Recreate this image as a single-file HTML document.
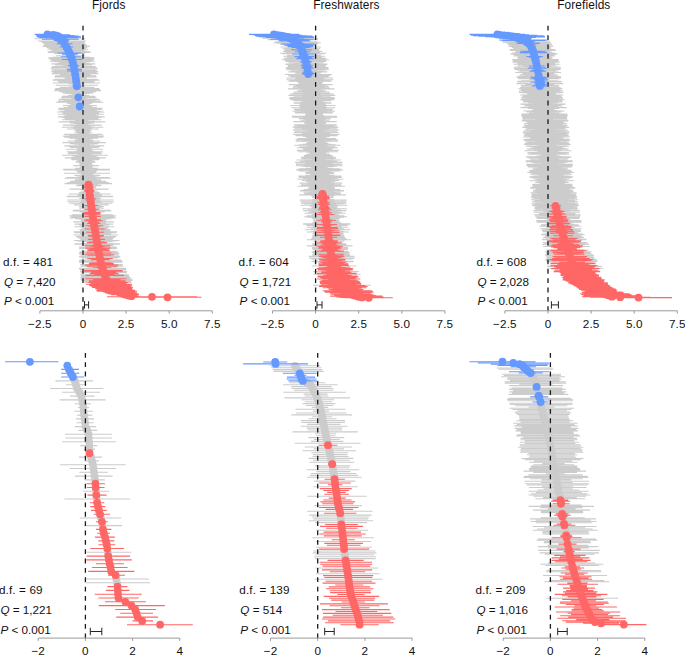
<!DOCTYPE html>
<html lang="en">
<head>
<meta charset="utf-8">
<title>Forest plots</title>
<style>html,body{margin:0;padding:0;background:#fff}svg{display:block}</style>
</head>
<body>
<svg width="685" height="655" viewBox="0 0 685 655" font-family="'Liberation Sans', sans-serif" font-size="11.7" letter-spacing="0.12" fill="#111">
<rect width="685" height="655" fill="#fff"/>
<text x="108.8" y="8.8" font-size="11.85" text-anchor="middle">Fjords</text>
<text x="346.4" y="8.8" font-size="11.85" text-anchor="middle">Freshwaters</text>
<text x="583.8" y="8.8" font-size="11.85" text-anchor="middle">Forefields</text>
<g>
<path d="M34.5 38.8H85.2M37.9 41H86.1M40.5 41.5H84.6M41.8 42.1H84.4M42.5 42.6H84.7M43.4 43.1H84.9M44.3 44.2H85.5M43.5 44.8H86.9M44.3 45.3H86.8M45.5 45.9H86.2M42.4 46.4H89.9M46.4 47.5H87.2M48.8 48.6H86M47.4 49.2H88M51.2 49.7H84.8M52.1 50.3H84.4M49.9 51.3H87.4M47.8 51.9H90.1M47.7 52.4H90.7M54 53.5H85.2M55.8 55.7H85.3M52.5 57.4H89.8M48.4 57.9H94.3M54.8 58.4H88.3M48.9 59H94.5M51.1 60.1H93.1M58.3 60.6H86.3M50 61.2H94.9M54.2 61.7H91M59.5 62.3H86.1M57.4 63.4H88.9M51.3 63.9H95.3M58.8 64.5H88M55.1 65H91.9M62.6 66.1H84.8M52 66.6H95.6M62.9 67.2H85M51.4 67.7H96.7M50.6 68.3H97.6M51.6 69.9H97.2M53.5 70.5H95.6M51.3 71.6H98.2M65.7 72.1H84.1M53.7 72.7H96.2M51.7 73.2H98.3M51.9 73.8H98.4M59.8 74.8H90.8M55 75.9H95.9M54.7 76.5H96.3M54.5 77H96.7M64.4 77.6H86.9M65 78.1H86.6M55 79.2H96.9M52.9 79.8H99.1M52.6 80.3H99.6M57.7 81.4H94.8M62.4 82H90.3M58.9 82.5H93.9M52.9 83H100M68.6 83.6H84.4M55.7 85.2H97.8M69.1 86.9H84.8M59.7 87.4H94.4M67.6 88H86.7M55.2 88.5H99.3M66.6 89.1H88M54.8 89.6H100.1M54.5 90.2H100.5M54.2 90.7H101M59.2 91.2H96.2M59.6 91.8H95.9M68.1 92.3H87.6M62.5 92.9H93.5M66.5 93.4H89.6M69.6 94H86.7M72.5 94.5H84.1M72.7 95.1H84M67.9 95.6H89M62 96.2H95.1M61.9 96.7H95.4M61.1 97.8H96.5M71.2 98.3H86.5M73.3 98.9H84.6M58.5 99.4H99.5M71.3 100H86.9M63.2 100.5H95.2M58 101.1H100.6M66.7 101.6H92.1M55.7 102.2H103.2M71.5 102.7H87.6M66.8 103.3H92.4M68.5 103.8H90.9M73.4 104.4H86.1M70.5 104.9H89.2M62.9 105.5H96.9M67.9 106H92.1M67.8 107.1H92.4M63.6 107.6H96.8M58 108.2H102.6M59.8 108.7H100.9M68.2 109.3H92.6M58.2 109.8H102.8M64.2 110.4H96.9M68.2 110.9H93M60.2 111.5H101.1M57.1 112H104.4M67.4 112.6H94.2M62.6 113.1H99.1M72.2 113.7H89.7M58.2 114.2H103.8M75.6 114.7H86.5M66.2 115.3H96.1M63.7 115.8H98.7M76.1 116.4H86.4M58 116.9H104.7M61.7 117.5H101.1M75.7 118H87.2M64.6 118.6H98.5M76.1 119.1H87.1M62 119.7H101.4M75.3 120.2H88.2M75 120.8H88.5M68.9 121.3H94.8M58.5 121.9H105.3M72.2 122.4H91.8M69.8 122.9H94.3M73.2 123.5H91M76.1 124H88.3M76.3 124.6H88.2M62.9 125.1H101.8M70.7 125.7H94.1M76.6 126.2H88.3M74.3 126.8H90.7M61.9 127.3H103.3M73 127.9H92.3M75.1 128.4H90.3M67 129H98.6M76.5 129.5H89.2M75.8 130H90M74.5 130.6H91.5M75.5 131.1H90.6M77.1 131.7H89.1M77.7 132.2H88.6M74.6 132.8H91.9M78 133.3H88.6M77.6 133.9H89.2M64.3 134.4H102.5M76.2 135H90.8M69.1 135.5H97.9M62.9 136.1H104.2M71.2 136.6H96M64.2 137.2H103.1M70.4 137.7H96.9M69.3 138.2H98.2M74.5 138.8H93.1M77.7 139.3H89.9M77.3 139.9H90.4M74.7 140.4H93.1M67.6 141H100.3M77.2 141.5H90.8M75 142.1H93.1M62.3 142.6H105.9M75.2 143.2H93M69.8 143.7H98.5M74 144.3H94.4M79 144.8H89.4M78.9 145.4H89.7M64.3 145.9H104.3M68.5 146.4H100.2M71.5 147H97.3M70.1 147.5H98.8M78.9 148.1H90.1M77.1 148.6H92M66.1 149.2H103.1M78.8 149.7H90.4M77.2 150.3H92.1M77.6 150.8H91.8M74.8 151.4H94.7M66.7 151.9H102.9M69 152.5H100.7M77.6 153H92.2M68 153.6H101.8M79.5 154.1H90.4M78.2 154.6H91.9M62.2 155.2H107.9M72.2 155.7H97.9M76.3 156.3H93.9M74.7 156.8H95.7M71.9 157.4H98.6M64.8 157.9H105.8M80.1 158.5H90.5M70.9 159H99.8M71.7 159.6H99.1M77.9 160.1H93M80 160.7H90.9M76 161.2H95M77.8 161.8H93.4M75.8 162.3H95.6M80.5 162.8H90.9M79.3 163.4H92.3M80 163.9H91.7M80.3 164.5H91.6M78.8 165H93.3M73.3 165.6H98.9M80.3 166.1H92M80.2 166.7H92.2M79.8 167.2H92.8M80.6 167.8H92.1M75.1 168.3H97.8M79.5 168.9H93.5M63.1 169.4H110M63.3 169.9H110M79.6 170.5H93.8M76.2 171H97.3M77.6 171.6H96.1M78.3 172.1H95.5M81.8 172.7H92.2M64.2 173.2H109.9M80.7 173.8H93.6M81.3 174.3H93.1M82.1 174.9H92.4M74.3 175.4H100.3M76.4 176H98.4M80.6 176.5H94.3M79.6 177.1H95.5M66.9 177.6H108.3M64.7 178.1H110.7M78.8 178.7H96.7M79.4 179.2H96.2M74.9 179.8H100.9M74.6 180.3H101.3M81.2 180.9H94.8M70.1 181.4H106M80.8 182H95.5M67.3 182.5H109.1M82.1 183.1H94.5M64.6 183.6H112.1M78.7 184.2H98.1M75.7 185.3H101.5M76.5 185.8H100.8M82.1 186.3H95.3M81.5 187.4H96.2M69.4 189.1H108.6M80 189.6H98.2M81.2 191.8H97.5M79.9 192.4H98.9M79 192.9H99.9M80.1 193.5H98.9M68.6 194H110.6M77.6 195.1H101.9M66.7 196.2H113.1M67.1 196.7H112.9M81.4 197.3H98.7M79.2 198.4H101.2M81.2 199.5H99.5M67.3 200H113.5M81 201.1H100.2M67.4 201.7H113.9M80.5 202.2H100.9M79.6 202.7H102M69.4 203.3H112.4M73.6 204.9H108.6M81.9 206H100.6M79.1 206.6H103.6M81.8 207.1H101.1M79.3 208.2H103.8M73.2 210.4H110.6M72.7 210.9H111.2M82 211.5H102M79.7 212H104.5M71.9 214.8H113.1M71.9 215.3H113.2M69.2 215.9H116.1M71.2 217H114.4M80 217.5H105.8M69.8 218H116.2M74.9 218.6H111.3M79.1 219.1H107.3M80.9 220.2H105.8M80.6 221.3H106.4M73.2 221.9H114M81.6 223H106M74.6 224.1H113.3M78.8 224.6H109.3M79.6 225.2H108.7M74.5 226.8H114.3M80.5 227.3H108.5M81.7 227.9H107.5M81.8 228.4H107.6M79.2 229.5H110.5M80 230.1H109.9M80 230.6H110.1M80.7 231.2H109.5M73.5 231.7H117M74.4 232.8H116.4M81.8 233.4H109.2M79.9 233.9H111.2M81.4 234.4H110M73.3 235H118.2M75.9 236.6H116.1M77.3 237.2H114.9M81.4 237.7H111M78.9 238.3H113.6M80.2 238.8H112.6M80.5 239.9H112.6M73.8 240.5H119.5M77 241H116.5M82 241.5H111.8M80.9 243.2H113.4M74.5 243.7H120.1M74.5 244.3H120.2M81.8 245.4H113.3M79.1 247H116.7M79.4 247.6H116.5M79.1 248.7H117.2M82.1 251.4H115.2M79.2 251.9H118.3M79.9 252.5H117.8M78.8 253.6H119.4M79.7 254.1H118.7M80.6 255.8H118.4M79.3 256.3H119.9M79 256.9H120.4M81 257.4H118.6M82 257.9H117.8M79.4 260.1H121.4M79.7 260.7H121.3M78.8 261.2H122.5M82 261.8H119.6M79.3 262.3H122.6M80.2 264.5H122.8M82.1 265.6H121.5M80.5 266.1H123.3M78.9 268.3H126.1M79.7 268.9H125.6M79.5 269.4H126.1M80 270H126M79.9 271.6H127.1M80.9 272.7H126.9M80.3 274.9H128.9M81.1 276H128.8M81 276.5H129.2M81.1 277.1H129.5M80.3 277.6H130.7M81.3 278.2H130.1M80.3 279.3H132.3M81.4 280.4H132.5" stroke="#cccccc" stroke-width="1.12" fill="none"/>
<path d="M59.9 38.8h0M62 41h0M62.5 41.5h0M63.1 42.1h0M63.6 42.6h0M64.1 43.1h0M64.9 44.2h0M65.2 44.8h0M65.5 45.3h0M65.8 45.9h0M66.1 46.4h0M66.8 47.5h0M67.4 48.6h0M67.7 49.2h0M68 49.7h0M68.2 50.3h0M68.7 51.3h0M68.9 51.9h0M69.2 52.4h0M69.6 53.5h0M70.6 55.7h0M71.2 57.4h0M71.4 57.9h0M71.5 58.4h0M71.7 59h0M72.1 60.1h0M72.3 60.6h0M72.4 61.2h0M72.6 61.7h0M72.8 62.3h0M73.2 63.4h0M73.3 63.9h0M73.4 64.5h0M73.5 65h0M73.7 66.1h0M73.8 66.6h0M73.9 67.2h0M74 67.7h0M74.1 68.3h0M74.4 69.9h0M74.5 70.5h0M74.8 71.6h0M74.9 72.1h0M75 72.7h0M75 73.2h0M75.1 73.8h0M75.3 74.8h0M75.4 75.9h0M75.5 76.5h0M75.6 77h0M75.7 77.6h0M75.8 78.1h0M75.9 79.2h0M76 79.8h0M76.1 80.3h0M76.3 81.4h0M76.3 82h0M76.4 82.5h0M76.5 83h0M76.5 83.6h0M76.7 85.2h0M77 86.9h0M77 87.4h0M77.1 88h0M77.2 88.5h0M77.3 89.1h0M77.4 89.6h0M77.5 90.2h0M77.6 90.7h0M77.7 91.2h0M77.8 91.8h0M77.9 92.3h0M78 92.9h0M78.1 93.4h0M78.2 94h0M78.3 94.5h0M78.4 95.1h0M78.4 95.6h0M78.5 96.2h0M78.6 96.7h0M78.8 97.8h0M78.9 98.3h0M79 98.9h0M79 99.4h0M79.1 100h0M79.2 100.5h0M79.3 101.1h0M79.4 101.6h0M79.4 102.2h0M79.5 102.7h0M79.6 103.3h0M79.7 103.8h0M79.8 104.4h0M79.9 104.9h0M79.9 105.5h0M80 106h0M80.1 107.1h0M80.2 107.6h0M80.3 108.2h0M80.3 108.7h0M80.4 109.3h0M80.5 109.8h0M80.5 110.4h0M80.6 110.9h0M80.7 111.5h0M80.7 112h0M80.8 112.6h0M80.9 113.1h0M80.9 113.7h0M81 114.2h0M81.1 114.7h0M81.1 115.3h0M81.2 115.8h0M81.3 116.4h0M81.3 116.9h0M81.4 117.5h0M81.5 118h0M81.5 118.6h0M81.6 119.1h0M81.7 119.7h0M81.7 120.2h0M81.8 120.8h0M81.9 121.3h0M81.9 121.9h0M82 122.4h0M82.1 122.9h0M82.1 123.5h0M82.2 124h0M82.3 124.6h0M82.3 125.1h0M82.4 125.7h0M82.5 126.2h0M82.5 126.8h0M82.6 127.3h0M82.7 127.9h0M82.7 128.4h0M82.8 129h0M82.9 129.5h0M82.9 130h0M83 130.6h0M83.1 131.1h0M83.1 131.7h0M83.2 132.2h0M83.3 132.8h0M83.3 133.3h0M83.4 133.9h0M83.4 134.4h0M83.5 135h0M83.5 135.5h0M83.6 136.1h0M83.6 136.6h0M83.6 137.2h0M83.7 137.7h0M83.7 138.2h0M83.8 138.8h0M83.8 139.3h0M83.9 139.9h0M83.9 140.4h0M83.9 141h0M84 141.5h0M84 142.1h0M84.1 142.6h0M84.1 143.2h0M84.2 143.7h0M84.2 144.3h0M84.2 144.8h0M84.3 145.4h0M84.3 145.9h0M84.4 146.4h0M84.4 147h0M84.5 147.5h0M84.5 148.1h0M84.5 148.6h0M84.6 149.2h0M84.6 149.7h0M84.7 150.3h0M84.7 150.8h0M84.8 151.4h0M84.8 151.9h0M84.8 152.5h0M84.9 153h0M84.9 153.6h0M85 154.1h0M85 154.6h0M85 155.2h0M85.1 155.7h0M85.1 156.3h0M85.2 156.8h0M85.2 157.4h0M85.3 157.9h0M85.3 158.5h0M85.3 159h0M85.4 159.6h0M85.4 160.1h0M85.5 160.7h0M85.5 161.2h0M85.6 161.8h0M85.7 162.3h0M85.7 162.8h0M85.8 163.4h0M85.9 163.9h0M85.9 164.5h0M86 165h0M86.1 165.6h0M86.1 166.1h0M86.2 166.7h0M86.3 167.2h0M86.4 167.8h0M86.4 168.3h0M86.5 168.9h0M86.6 169.4h0M86.6 169.9h0M86.7 170.5h0M86.8 171h0M86.8 171.6h0M86.9 172.1h0M87 172.7h0M87 173.2h0M87.1 173.8h0M87.2 174.3h0M87.3 174.9h0M87.3 175.4h0M87.4 176h0M87.5 176.5h0M87.5 177.1h0M87.6 177.6h0M87.7 178.1h0M87.7 178.7h0M87.8 179.2h0M87.9 179.8h0M87.9 180.3h0M88 180.9h0M88.1 181.4h0M88.2 182h0M88.2 182.5h0M88.3 183.1h0M88.4 183.6h0M88.4 184.2h0M88.6 185.3h0M88.6 185.8h0M88.7 186.3h0M88.8 187.4h0M89 189.1h0M89.1 189.6h0M89.3 191.8h0M89.4 192.4h0M89.5 192.9h0M89.5 193.5h0M89.6 194h0M89.8 195.1h0M89.9 196.2h0M90 196.7h0M90.1 197.3h0M90.2 198.4h0M90.4 199.5h0M90.4 200h0M90.6 201.1h0M90.7 201.7h0M90.7 202.2h0M90.8 202.7h0M90.9 203.3h0M91.1 204.9h0M91.3 206h0M91.3 206.6h0M91.4 207.1h0M91.6 208.2h0M91.9 210.4h0M91.9 210.9h0M92 211.5h0M92.1 212h0M92.5 214.8h0M92.6 215.3h0M92.6 215.9h0M92.8 217h0M92.9 217.5h0M93 218h0M93.1 218.6h0M93.2 219.1h0M93.3 220.2h0M93.5 221.3h0M93.6 221.9h0M93.8 223h0M94 224.1h0M94.1 224.6h0M94.1 225.2h0M94.4 226.8h0M94.5 227.3h0M94.6 227.9h0M94.7 228.4h0M94.9 229.5h0M94.9 230.1h0M95 230.6h0M95.1 231.2h0M95.2 231.7h0M95.4 232.8h0M95.5 233.4h0M95.6 233.9h0M95.7 234.4h0M95.7 235h0M96 236.6h0M96.1 237.2h0M96.2 237.7h0M96.3 238.3h0M96.4 238.8h0M96.6 239.9h0M96.7 240.5h0M96.8 241h0M96.9 241.5h0M97.2 243.2h0M97.3 243.7h0M97.4 244.3h0M97.6 245.4h0M97.9 247h0M98 247.6h0M98.2 248.7h0M98.7 251.4h0M98.8 251.9h0M98.9 252.5h0M99.1 253.6h0M99.2 254.1h0M99.5 255.8h0M99.6 256.3h0M99.7 256.9h0M99.8 257.4h0M99.9 257.9h0M100.4 260.1h0M100.5 260.7h0M100.7 261.2h0M100.8 261.8h0M100.9 262.3h0M101.5 264.5h0M101.8 265.6h0M101.9 266.1h0M102.5 268.3h0M102.6 268.9h0M102.8 269.4h0M103 270h0M103.5 271.6h0M103.9 272.7h0M104.6 274.9h0M104.9 276h0M105.1 276.5h0M105.3 277.1h0M105.5 277.6h0M105.7 278.2h0M106.3 279.3h0M106.9 280.4h0" stroke="#cccccc" stroke-width="7.8" stroke-linecap="round" fill="none"/>
<path d="M83 25.8V311" stroke="#1a1a1a" stroke-width="1.3" stroke-dasharray="4.8 4.55" fill="none"/>
<path d="M34.6 34.4H60.2M36 34.9H70M36.5 35.5H74.5M36.5 36H78.5M36.5 36.6H80.5M38 37.1H81M39.5 37.7H77.7M51.9 38.2H66.8M42 39.3H78.8M54.7 39.9H67.2M53.7 40.4H69.2M56.7 43.7H72.5M59.7 47H73.2M63 48.1H71.2M63.8 50.8H73.1M57.7 53H81.1M62 54.1H77.7M66.6 54.6H73.5M66.7 55.2H74M66 56.3H75.6M61 56.8H81M61.7 59.5H82M69.5 62.8H76.4M68.1 65.6H79.1M70.8 68.8H77.7M66.9 69.4H81.8M67.2 71H82.1M71.4 74.3H79M71.9 75.4H78.8M72.3 78.7H79.4M72.7 80.9H79.6M73.2 84.1H80.1M73.2 84.7H80.1M73.4 85.8H80.3M72.4 86.3H81.4M74.9 97.3H81.9M77.1 106.5H82.3" stroke="#6699ff" stroke-width="1.12" fill="none"/>
<path d="M83.9 184.7H93.1M84.2 186.9H93.3M84.1 188H93.6M85.5 188.5H92.4M83.9 190.2H94.4M85.8 190.7H92.7M84.3 191.3H94.3M86.2 194.5H93.2M85.7 195.6H94M86.7 197.8H93.6M84.8 198.9H95.8M86.4 200.6H94.7M87.2 203.8H94.7M87.5 204.4H94.6M84.4 205.5H98M88 207.7H94.9M87.9 208.8H95.4M84.2 209.3H99.2M86.4 209.8H97.2M83.9 212.6H100.5M84 213.1H100.5M88.9 213.7H95.8M84.3 214.2H100.5M84.6 216.4H100.8M85.6 219.7H100.9M84 220.8H102.8M88.2 222.4H99.2M87.2 223.5H100.6M85.2 225.7H103.2M88.3 226.2H100.3M84.9 229H104.7M86.5 232.3H104.2M87.7 235.5H104M88.4 236.1H103.4M87.9 239.4H105M89.2 242.1H104.8M87 242.6H107.1M93.1 244.8H101.8M84.9 245.9H110.4M90.6 246.5H104.9M85.6 248.1H110.5M89.8 249.2H106.7M87.3 249.7H109.4M87.5 250.3H109.4M87.4 250.8H109.8M86.4 253H111.5M84.5 254.7H114.1M87.7 255.2H111M87.2 258.5H112.8M89.9 259H110.4M91.4 259.6H109.1M90.8 262.9H111.4M88.9 263.4H113.6M88.8 264H113.9M85.2 265.1H118.1M86.8 266.7H117.4M92.9 267.2H111.5M96.9 267.8H107.7M84.2 270.5H122.1M83.9 271.1H122.8M91.1 272.2H116.3M90.5 273.3H117.6M89.6 273.8H118.9M94.2 274.3H114.6M85.8 275.4H123.8M85.6 278.7H126.4M92.9 279.8H120.4M88.9 280.9H125.6M94.7 281.4H120.5M84.5 282H131.3M88.5 282.5H127.9M90.5 283.1H126.5M94.2 283.6H123.5M86.2 284.2H132M98.4 284.7H120.5M89.4 285.3H130.5M88.9 285.8H132.3M91.3 286.4H131.1M97.2 286.9H126.5M92.1 287.5H132.9M98.7 288H127.6M95.2 288.6H132.3M97.3 289.1H131.5M97.3 289.6H132.7M96.2 290.2H135.2M97.3 290.7H135.3M97.2 291.3H137.3M102.5 291.8H134.6M104.5 292.4H135.1M105.4 292.9H136.8M107.3 293.5H137.5M108.6 294H138.8M111.2 294.6H138.9M117.2 295.1H137.1M121.3 295.7H137.3M123.7 296.2H139.2M107 296.8H197M133.5 297.3H201.5" stroke="#ff6666" stroke-width="1.12" fill="none"/>
<path d="M47.4 34.4h0M53 34.9h0M55.5 35.5h0M57.5 36h0M58.5 36.6h0M59.5 37.1h0M58.6 37.7h0M59.3 38.2h0M60.4 39.3h0M60.9 39.9h0M61.5 40.4h0M64.6 43.7h0M66.4 47h0M67.1 48.1h0M68.5 50.8h0M69.4 53h0M69.9 54.1h0M70.1 54.6h0M70.3 55.2h0M70.8 56.3h0M71 56.8h0M71.9 59.5h0M73 62.8h0M73.6 65.6h0M74.2 68.8h0M74.3 69.4h0M74.7 71h0M75.2 74.3h0M75.4 75.4h0M75.9 78.7h0M76.2 80.9h0M76.6 84.1h0M76.7 84.7h0M76.8 85.8h0M76.9 86.3h0M78.4 97.3h0M79.7 106.5h0" stroke="#6699ff" stroke-width="7.8" stroke-linecap="round" fill="none"/>
<path d="M88.5 184.7h0M88.8 186.9h0M88.9 188h0M89 188.5h0M89.1 190.2h0M89.2 190.7h0M89.3 191.3h0M89.7 194.5h0M89.8 195.6h0M90.1 197.8h0M90.3 198.9h0M90.5 200.6h0M91 203.8h0M91 204.4h0M91.2 205.5h0M91.5 207.7h0M91.6 208.8h0M91.7 209.3h0M91.8 209.8h0M92.2 212.6h0M92.2 213.1h0M92.3 213.7h0M92.4 214.2h0M92.7 216.4h0M93.3 219.7h0M93.4 220.8h0M93.7 222.4h0M93.9 223.5h0M94.2 225.7h0M94.3 226.2h0M94.8 229h0M95.3 232.3h0M95.8 235.5h0M95.9 236.1h0M96.5 239.4h0M97 242.1h0M97.1 242.6h0M97.5 244.8h0M97.7 245.9h0M97.8 246.5h0M98.1 248.1h0M98.3 249.2h0M98.4 249.7h0M98.5 250.3h0M98.6 250.8h0M99 253h0M99.3 254.7h0M99.4 255.2h0M100 258.5h0M100.1 259h0M100.2 259.6h0M101.1 262.9h0M101.2 263.4h0M101.4 264h0M101.6 265.1h0M102.1 266.7h0M102.2 267.2h0M102.3 267.8h0M103.2 270.5h0M103.3 271.1h0M103.7 272.2h0M104.1 273.3h0M104.2 273.8h0M104.4 274.3h0M104.8 275.4h0M106 278.7h0M106.6 279.8h0M107.3 280.9h0M107.6 281.4h0M107.9 282h0M108.2 282.5h0M108.5 283.1h0M108.8 283.6h0M109.1 284.2h0M109.4 284.7h0M109.9 285.3h0M110.6 285.8h0M111.2 286.4h0M111.8 286.9h0M112.5 287.5h0M113.1 288h0M113.7 288.6h0M114.4 289.1h0M115 289.6h0M115.7 290.2h0M116.3 290.7h0M117.3 291.3h0M118.6 291.8h0M119.8 292.4h0M121.1 292.9h0M122.4 293.5h0M123.7 294h0M125.1 294.6h0M127.2 295.1h0M129.3 295.7h0M131.4 296.2h0M152 296.8h0M167.5 297.3h0" stroke="#ff6666" stroke-width="7.8" stroke-linecap="round" fill="none"/>
</g>
<g>
<path d="M262.5 38.3H318.3M267.8 39.6H317.6M275.6 41.8H317M275.2 42.2H318.2M273.4 42.7H320.8M276.9 43.1H318.1M279.9 44.4H317.5M280.5 47H320.9M285.7 48.4H316.7M282.5 48.8H320.2M284.6 49.2H318.5M284.6 50.1H319.3M287.7 50.5H316.5M287.5 51H317.1M282.8 51.4H322.2M285.6 52.3H320M287.1 52.7H318.9M280.1 53.2H326.2M282.4 53.6H324.2M287 55.3H320.8M283.4 56.2H325M287.2 57.1H321.8M287.4 57.5H321.9M283.8 58.4H326.1M285.2 59.3H325.3M281.9 59.7H328.9M286.1 60.1H324.9M291.5 60.6H319.7M284.9 61H326.5M285.7 61.4H325.9M288.6 62.7H323.6M294.1 63.2H318.3M293.9 63.6H318.7M285.4 64.1H327.4M285.7 64.5H327.3M287.5 64.9H325.7M288 65.8H325.6M289.6 66.2H324.2M288 66.7H326M286 67.5H328.3M285.8 68.4H328.7M289 68.9H325.7M292.1 69.3H322.7M286.4 69.7H328.6M297.8 70.2H317.3M291.3 71H324.1M298.3 71.5H317.2M288.4 71.9H327.2M295.1 72.8H320.9M295.4 73.2H320.7M284.8 74.5H332M294.9 75H322.4M288.6 75.4H329.3M288.1 75.8H330.3M295.7 76.3H323M290.3 76.7H328.5M301.1 77.1H317.8M296 77.6H323.1M286.3 78H332.9M298.5 78.4H320.9M295.1 78.9H324.4M299.4 79.3H320.3M286.4 79.8H333.4M290.2 80.2H329.7M296.2 80.6H323.8M288.5 81.1H331.6M296.8 81.5H323.5M302.2 81.9H318.2M297.8 82.4H322.8M299.7 82.8H321M299.2 83.2H321.7M298.6 83.7H322.4M302.5 84.1H318.6M288.6 84.6H332.6M298.9 85H322.5M299.2 85.4H322.3M296.2 85.9H325.5M293.2 86.3H328.5M293.1 86.7H328.8M297.7 87.2H324.3M301.1 87.6H321.1M292.4 88H329.9M301.1 88.5H321.4M288.1 88.9H334.5M299.3 89.3H323.4M303.3 89.8H319.4M301.6 90.2H321.3M297.1 90.7H325.8M302.2 91.1H320.8M298.3 91.5H324.7M293.6 92H329.5M303 92.4H320.1M303.4 92.8H319.8M293.1 93.3H330.3M295.8 93.7H327.6M289.7 94.1H333.8M303.1 94.6H320.4M303 95H320.7M288.3 95.5H335.4M302.6 95.9H321.2M302.4 96.3H321.5M293.4 96.8H330.6M303.4 97.2H320.6M289.6 97.6H334.5M302.2 98.1H322M289.2 98.5H335.1M291 98.9H333.3M295.8 99.4H328.6M290.1 99.8H334.4M304.5 100.2H320.1M293.4 100.7H331.2M302.2 101.1H322.5M302.9 101.6H321.9M303.4 102H321.4M299.8 102.4H325.1M294.4 102.9H330.6M293.4 103.3H331.7M300.9 103.7H324.3M300.2 104.2H325.1M299.6 104.6H325.8M305.5 105H320M290.2 105.5H335.4M304.6 105.9H321.3M299.5 106.4H326.4M306.3 106.8H319.8M299.6 107.2H326.6M291.2 107.7H335.2M307.1 108.1H319.4M300 108.5H326.6M306 109H320.7M293.9 109.4H333M296.1 109.8H330.9M295 110.3H332.1M307.1 110.7H320.2M292.6 111.2H334.9M300.8 111.6H326.8M302.9 112H324.8M294.9 112.5H332.9M295.1 112.9H332.9M305.5 113.3H322.6M305.2 113.8H323.1M306.5 114.2H321.9M307.2 114.6H321.4M305.3 115.1H323.4M307.1 115.5H321.8M305 115.9H324M292 116.4H337M292.9 116.8H336.2M292.1 117.3H337.2M305.6 117.7H323.7M303.1 118.1H326.3M298.7 118.6H330.8M307.2 119H322.4M303.6 119.4H326M306.6 119.9H323.2M300.5 120.3H329.4M305.9 120.7H324M306.9 121.2H323.1M293.3 121.6H336.8M304.3 122.1H325.9M308.9 122.5H321.3M305 122.9H325.3M304.3 123.4H326.1M306.7 123.8H323.8M309.2 124.2H321.4M294.2 124.7H336.5M305.6 125.1H325.2M297.4 125.5H333.4M293.7 126H337.2M304.1 126.4H326.9M297.6 126.9H333.5M292.6 127.3H338.6M306.1 127.7H325.1M294.5 128.2H336.9M307.4 128.6H324M302.1 129H329.5M307.3 129.5H324.4M293 129.9H338.7M308.8 130.3H323M307.8 130.8H324.1M294.6 131.2H337.3M305.3 131.6H326.7M308.9 132.1H323.2M293.8 132.5H338.4M302.7 133H329.6M301.9 133.4H330.5M307.8 133.8H324.7M292.9 134.3H339.7M296 134.7H336.6M300.8 135.1H331.9M295.3 135.6H337.5M307.7 136H325.2M303.1 136.4H329.8M307.7 136.9H325.3M310.5 137.3H322.6M306.1 137.8H327.1M310 138.2H323.3M297.3 138.6H336M308.7 139.1H324.8M305 139.5H328.5M295.6 139.9H338M302.3 140.4H331.4M307.2 140.8H326.5M295.8 141.2H338.1M310.9 141.7H323M309.2 142.1H324.8M307.3 142.6H326.7M309.6 143H324.6M305.9 143.4H328.4M306.6 143.9H327.7M302.6 144.3H331.8M298.8 144.7H335.7M294.2 145.2H340.3M307.5 145.6H327.2M307.5 146H327.2M310.9 146.5H323.9M299.5 146.9H335.3M304.4 147.3H330.6M297 147.8H338.1M302 148.2H333.2M308.3 148.7H326.9M303.9 149.1H331.4M303.3 149.5H332.1M309.6 150H325.9M296.8 150.4H338.7M311.5 150.8H324.1M307.3 151.3H328.4M297.8 151.7H337.9M306.8 152.1H329.1M310.1 152.6H325.8M311.9 153H324.1M309.6 153.5H326.4M309.7 153.9H326.5M306.3 154.3H329.9M308.1 154.8H328.2M305.2 155.2H331.2M303.7 155.6H332.7M304 156.1H332.5M306 156.5H330.6M312 156.9H324.7M301 157.4H335.8M309.4 157.8H327.4M300.6 158.3H336.3M302.7 158.7H334.2M311.6 159.1H325.5M311.7 159.6H325.4M296.4 160H340.8M304.9 160.4H332.4M304.6 160.9H332.8M300.1 161.3H337.4M300.6 161.7H336.9M295 162.2H342.6M295.8 162.6H341.9M305.4 163H332.3M305 163.5H332.8M308.1 163.9H329.8M295.9 164.4H342.1M312.8 164.8H325.3M303.4 165.2H334.7M295.8 165.7H342.4M301.3 166.1H336.9M305.1 166.5H333.3M313.2 167H325.3M311.2 167.4H327.3M310.8 167.8H327.8M305.5 168.3H333.1M299.2 168.7H339.5M297.1 169.2H341.7M308.3 169.6H330.6M295.9 170H343.1M301.6 170.5H337.4M298.8 170.9H340.3M311.8 171.3H327.4M308.1 171.8H331.2M312.1 172.2H327.3M305.2 172.6H334.2M311 173.1H328.5M305.6 173.5H333.9M310.4 173.9H329.2M312 174.4H327.7M309.9 174.8H329.9M305.5 175.3H334.4M313 175.7H326.9M298.4 176.1H341.6M309.6 176.6H330.5M310.1 177H330.1M298.7 177.4H341.6M307.5 177.9H333M302.8 178.3H337.8M309 178.7H331.7M297.6 179.2H343.2M312.2 179.6H328.7M307 180.1H334M301.9 180.5H339.2M313.6 180.9H327.6M306 181.4H335.3M307.5 181.8H334M310.5 182.2H331.1M310.7 182.7H331M299.7 183.1H342.1M311.3 183.5H330.6M312.5 184H329.5M307.8 184.4H334.3M300.9 184.9H341.4M301.2 185.3H341.2M310.8 185.7H331.7M297.7 186.2H344.9M311.3 186.6H331.4M310 187H332.8M313.5 187.5H329.4M308 187.9H335.1M313 188.3H330.2M308.8 188.8H334.5M310.2 189.2H333.3M303.5 189.6H340.1M305.1 190.1H338.6M300 190.5H343.8M300 191H344M314.1 191.4H330M310.8 191.8H333.5M303.4 192.3H340.9M313 192.7H331.5M308.6 193.1H336.1M304.2 193.6H340.5M310.7 194.4H334.3M299.2 194.9H345.9M311 195.8H334.4M312 197.1H333.8M313.2 197.5H332.6M312.4 199.2H333.9M299.9 200.1H346.6M312.5 201H334.3M314.6 201.4H332.3M300.7 201.9H346.4M311.6 202.7H335.7M301 203.2H346.3M304 203.6H343.5M311.5 204.9H336.4M300.6 205.3H347.3M314.3 205.8H333.8M309.9 206.2H338.3M312.9 206.7H335.4M311.5 207.5H337M311.5 208H337.2M302.2 208.8H346.8M308 209.3H341M313.7 210.1H335.6M303.1 210.6H346.4M314.5 211H335.2M311.4 211.9H338.5M308.1 212.3H341.9M304.7 213.2H345.6M314.1 213.6H336.4M311.5 214.9H339.3M313 215.4H338M306.8 215.8H344.3M311.7 216.3H339.6M304.3 216.7H347M307.2 217.1H344.3M312.5 218H339.3M311.8 218.4H340.1M314.4 218.9H337.6M313.6 219.3H338.6M313 220.6H339.5M314.2 221H338.5M314.4 221.5H338.3M313.6 222.4H339.4M312.2 222.8H341M311.9 223.2H341.4M303.1 223.7H350.3M303.1 224.1H350.4M306.3 225.4H347.6M312 225.8H342M313.3 226.3H340.8M312.7 226.7H341.6M306.6 227.2H347.8M313.6 228H341.1M310.7 228.9H344.2M312 229.3H343.1M304.8 229.8H350.3M313.8 231.1H341.7M311.3 231.5H344.3M307 232H348.8M313.5 232.8H342.5M313.4 233.3H342.7M312.6 233.7H343.6M312.6 234.1H343.8M314.2 234.6H342.2M312.1 235.9H344.6M313.6 236.3H343.3M312.7 236.7H344.3M312.1 237.6H345.1M314.2 238.1H343.2M311.4 238.5H346M311.1 238.9H346.5M314.3 239.4H343.4M306.6 239.8H351.2M313.7 241.1H344.5M312.5 243.7H346.3M312.4 244.6H346.6M312.6 245.5H346.7M306.9 245.9H352.5M312 247.6H347.9M312.1 248.5H348.1M313.4 249H346.9M312.4 249.8H348.1M312.8 251.6H348.4M314.2 252H347.1M311.6 252.4H349.8M314.3 252.9H347.3M314.5 253.3H347.2M312.7 253.8H349.2M312.3 254.6H350M312.6 255.1H350M308.8 256.4H354.4M309.1 258.1H354.9M311.5 259H352.9M311.4 261.2H353.9M312.2 261.6H353.3M311.6 266H356.3M313.1 271.6H358.8M313.4 274.3H360.5M313 285.2H371" stroke="#cccccc" stroke-width="1.12" fill="none"/>
<path d="M290.4 38.3h0M292.7 39.6h0M296.3 41.8h0M296.7 42.2h0M297.1 42.7h0M297.5 43.1h0M298.7 44.4h0M300.7 47h0M301.2 48.4h0M301.4 48.8h0M301.6 49.2h0M301.9 50.1h0M302.1 50.5h0M302.3 51h0M302.5 51.4h0M302.8 52.3h0M303 52.7h0M303.2 53.2h0M303.3 53.6h0M303.9 55.3h0M304.2 56.2h0M304.5 57.1h0M304.7 57.5h0M304.9 58.4h0M305.2 59.3h0M305.4 59.7h0M305.5 60.1h0M305.6 60.6h0M305.7 61h0M305.8 61.4h0M306.1 62.7h0M306.2 63.2h0M306.3 63.6h0M306.4 64.1h0M306.5 64.5h0M306.6 64.9h0M306.8 65.8h0M306.9 66.2h0M307 66.7h0M307.1 67.5h0M307.3 68.4h0M307.3 68.9h0M307.4 69.3h0M307.5 69.7h0M307.6 70.2h0M307.7 71h0M307.8 71.5h0M307.8 71.9h0M308 72.8h0M308 73.2h0M308.4 74.5h0M308.7 75h0M308.9 75.4h0M309.2 75.8h0M309.3 76.3h0M309.4 76.7h0M309.5 77.1h0M309.5 77.6h0M309.6 78h0M309.7 78.4h0M309.7 78.9h0M309.8 79.3h0M309.9 79.8h0M309.9 80.2h0M310 80.6h0M310.1 81.1h0M310.1 81.5h0M310.2 81.9h0M310.3 82.4h0M310.3 82.8h0M310.4 83.2h0M310.5 83.7h0M310.5 84.1h0M310.6 84.6h0M310.7 85h0M310.7 85.4h0M310.8 85.9h0M310.9 86.3h0M311 86.7h0M311 87.2h0M311.1 87.6h0M311.2 88h0M311.2 88.5h0M311.3 88.9h0M311.3 89.3h0M311.4 89.8h0M311.4 90.2h0M311.4 90.7h0M311.5 91.1h0M311.5 91.5h0M311.6 92h0M311.6 92.4h0M311.6 92.8h0M311.7 93.3h0M311.7 93.7h0M311.7 94.1h0M311.8 94.6h0M311.8 95h0M311.9 95.5h0M311.9 95.9h0M311.9 96.3h0M312 96.8h0M312 97.2h0M312 97.6h0M312.1 98.1h0M312.1 98.5h0M312.2 98.9h0M312.2 99.4h0M312.2 99.8h0M312.3 100.2h0M312.3 100.7h0M312.4 101.1h0M312.4 101.6h0M312.4 102h0M312.5 102.4h0M312.5 102.9h0M312.5 103.3h0M312.6 103.7h0M312.6 104.2h0M312.7 104.6h0M312.8 105h0M312.8 105.5h0M312.9 105.9h0M313 106.4h0M313 106.8h0M313.1 107.2h0M313.2 107.7h0M313.2 108.1h0M313.3 108.5h0M313.4 109h0M313.5 109.4h0M313.5 109.8h0M313.6 110.3h0M313.7 110.7h0M313.7 111.2h0M313.8 111.6h0M313.9 112h0M313.9 112.5h0M314 112.9h0M314.1 113.3h0M314.1 113.8h0M314.2 114.2h0M314.3 114.6h0M314.4 115.1h0M314.4 115.5h0M314.5 115.9h0M314.5 116.4h0M314.6 116.8h0M314.6 117.3h0M314.7 117.7h0M314.7 118.1h0M314.7 118.6h0M314.8 119h0M314.8 119.4h0M314.9 119.9h0M314.9 120.3h0M315 120.7h0M315 121.2h0M315 121.6h0M315.1 122.1h0M315.1 122.5h0M315.2 122.9h0M315.2 123.4h0M315.3 123.8h0M315.3 124.2h0M315.3 124.7h0M315.4 125.1h0M315.4 125.5h0M315.5 126h0M315.5 126.4h0M315.6 126.9h0M315.6 127.3h0M315.6 127.7h0M315.7 128.2h0M315.7 128.6h0M315.8 129h0M315.8 129.5h0M315.9 129.9h0M315.9 130.3h0M315.9 130.8h0M316 131.2h0M316 131.6h0M316.1 132.1h0M316.1 132.5h0M316.1 133h0M316.2 133.4h0M316.2 133.8h0M316.3 134.3h0M316.3 134.7h0M316.4 135.1h0M316.4 135.6h0M316.4 136h0M316.5 136.4h0M316.5 136.9h0M316.6 137.3h0M316.6 137.8h0M316.6 138.2h0M316.7 138.6h0M316.7 139.1h0M316.8 139.5h0M316.8 139.9h0M316.8 140.4h0M316.9 140.8h0M316.9 141.2h0M317 141.7h0M317 142.1h0M317 142.6h0M317.1 143h0M317.1 143.4h0M317.2 143.9h0M317.2 144.3h0M317.2 144.7h0M317.3 145.2h0M317.3 145.6h0M317.4 146h0M317.4 146.5h0M317.4 146.9h0M317.5 147.3h0M317.5 147.8h0M317.6 148.2h0M317.6 148.7h0M317.6 149.1h0M317.7 149.5h0M317.7 150h0M317.8 150.4h0M317.8 150.8h0M317.8 151.3h0M317.9 151.7h0M317.9 152.1h0M318 152.6h0M318 153h0M318 153.5h0M318.1 153.9h0M318.1 154.3h0M318.2 154.8h0M318.2 155.2h0M318.2 155.6h0M318.3 156.1h0M318.3 156.5h0M318.3 156.9h0M318.4 157.4h0M318.4 157.8h0M318.5 158.3h0M318.5 158.7h0M318.5 159.1h0M318.6 159.6h0M318.6 160h0M318.6 160.4h0M318.7 160.9h0M318.7 161.3h0M318.8 161.7h0M318.8 162.2h0M318.8 162.6h0M318.9 163h0M318.9 163.5h0M318.9 163.9h0M319 164.4h0M319 164.8h0M319.1 165.2h0M319.1 165.7h0M319.1 166.1h0M319.2 166.5h0M319.2 167h0M319.3 167.4h0M319.3 167.8h0M319.3 168.3h0M319.4 168.7h0M319.4 169.2h0M319.4 169.6h0M319.5 170h0M319.5 170.5h0M319.6 170.9h0M319.6 171.3h0M319.6 171.8h0M319.7 172.2h0M319.7 172.6h0M319.7 173.1h0M319.8 173.5h0M319.8 173.9h0M319.9 174.4h0M319.9 174.8h0M319.9 175.3h0M320 175.7h0M320 176.1h0M320.1 176.6h0M320.1 177h0M320.2 177.4h0M320.2 177.9h0M320.3 178.3h0M320.3 178.7h0M320.4 179.2h0M320.5 179.6h0M320.5 180.1h0M320.6 180.5h0M320.6 180.9h0M320.7 181.4h0M320.7 181.8h0M320.8 182.2h0M320.8 182.7h0M320.9 183.1h0M321 183.5h0M321 184h0M321.1 184.4h0M321.1 184.9h0M321.2 185.3h0M321.2 185.7h0M321.3 186.2h0M321.3 186.6h0M321.4 187h0M321.5 187.5h0M321.5 187.9h0M321.6 188.3h0M321.7 188.8h0M321.7 189.2h0M321.8 189.6h0M321.9 190.1h0M321.9 190.5h0M322 191h0M322.1 191.4h0M322.1 191.8h0M322.2 192.3h0M322.3 192.7h0M322.3 193.1h0M322.4 193.6h0M322.5 194.4h0M322.6 194.9h0M322.7 195.8h0M322.9 197.1h0M322.9 197.5h0M323.2 199.2h0M323.3 200.1h0M323.4 201h0M323.5 201.4h0M323.5 201.9h0M323.6 202.7h0M323.7 203.2h0M323.7 203.6h0M323.9 204.9h0M324 205.3h0M324 205.8h0M324.1 206.2h0M324.2 206.7h0M324.3 207.5h0M324.3 208h0M324.5 208.8h0M324.5 209.3h0M324.7 210.1h0M324.7 210.6h0M324.8 211h0M324.9 211.9h0M325 212.3h0M325.1 213.2h0M325.2 213.6h0M325.4 214.9h0M325.5 215.4h0M325.5 215.8h0M325.6 216.3h0M325.7 216.7h0M325.7 217.1h0M325.9 218h0M325.9 218.4h0M326 218.9h0M326.1 219.3h0M326.3 220.6h0M326.3 221h0M326.4 221.5h0M326.5 222.4h0M326.6 222.8h0M326.6 223.2h0M326.7 223.7h0M326.8 224.1h0M326.9 225.4h0M327 225.8h0M327.1 226.3h0M327.1 226.7h0M327.2 227.2h0M327.3 228h0M327.4 228.9h0M327.5 229.3h0M327.6 229.8h0M327.8 231.1h0M327.8 231.5h0M327.9 232h0M328 232.8h0M328.1 233.3h0M328.1 233.7h0M328.2 234.1h0M328.2 234.6h0M328.4 235.9h0M328.5 236.3h0M328.5 236.7h0M328.6 237.6h0M328.7 238.1h0M328.7 238.5h0M328.8 238.9h0M328.8 239.4h0M328.9 239.8h0M329.1 241.1h0M329.4 243.7h0M329.5 244.6h0M329.6 245.5h0M329.7 245.9h0M329.9 247.6h0M330.1 248.5h0M330.1 249h0M330.3 249.8h0M330.6 251.6h0M330.6 252h0M330.7 252.4h0M330.8 252.9h0M330.9 253.3h0M331 253.8h0M331.2 254.6h0M331.3 255.1h0M331.6 256.4h0M332 258.1h0M332.2 259h0M332.7 261.2h0M332.8 261.6h0M333.9 266h0M335.9 271.6h0M336.9 274.3h0M342 285.2h0" stroke="#cccccc" stroke-width="7.8" stroke-linecap="round" fill="none"/>
<path d="M315.6 25.8V311" stroke="#1a1a1a" stroke-width="1.3" stroke-dasharray="4.8 4.55" fill="none"/>
<path d="M248.9 34.4H298.9M252 34.8H300M254.5 35.3H302.5M255 35.7H307M256 36.1H312M259 36.6H313M262 37H314M266 37.5H314M282.1 37.9H296.3M277.8 38.8H304.5M270.3 39.2H313.6M278.4 40.1H308.6M286 40.5H302.5M279.6 40.9H310.4M289.1 41.4H302.4M291.3 43.6H304.5M281.8 44H314.7M286.6 44.9H311.6M284.2 45.3H314.7M287 45.7H312.8M295.2 46.2H305.4M287.8 46.6H313.2M291.4 47.5H310.3M295.8 47.9H306.3M291.2 49.7H312.3M294.9 51.8H310.4M292.2 54H314.7M299.3 54.5H307.9M298.9 54.9H308.6M300.6 55.8H307.5M294.6 56.6H314.1M297.7 57.9H311.9M296.3 58.8H313.9M300 61.9H311.8M300.8 62.3H311.2M300.9 65.4H312.5M301.8 67.1H312.4M301 68H313.5M304.2 70.6H311.1M302.4 72.3H313.4M301.6 73.6H314.6M303.2 74.1H313.2" stroke="#6699ff" stroke-width="1.12" fill="none"/>
<path d="M318 194H326.9M318.3 195.3H326.9M316.5 196.2H329M316.8 196.6H328.9M316.5 197.9H329.5M317.3 198.4H328.8M316.5 198.8H329.8M319.2 199.7H327.3M319.9 200.6H326.8M317.4 202.3H329.7M317.6 204H330M318 204.5H329.7M319.2 207.1H329.2M318.9 208.4H329.9M317.8 209.7H331.4M320.3 211.5H329.5M318.2 212.8H331.9M320.8 214.1H329.7M316.5 214.5H334.2M322.2 217.6H329.4M320.4 219.7H331.8M316.5 220.2H335.9M321.1 221.9H331.8M316.7 224.5H336.9M321 225H332.8M316.9 227.6H337.6M316.8 228.5H338M316.5 230.2H338.8M321.1 230.6H334.3M316.5 232.4H339.4M316.5 235H340.1M316.9 235.4H339.8M320 237.2H337.1M324 240.2H334M320.2 240.7H337.8M320.8 241.5H337.4M323.2 242H335.2M320.2 242.4H338.3M316.5 242.9H342.1M322.1 243.3H336.6M322.8 244.2H336.1M320.6 245H338.5M316.5 246.3H343M321.9 246.8H337.7M319.1 247.2H340.6M318.4 248.1H341.6M322.7 249.4H337.7M321.1 250.3H339.6M320.4 250.7H340.4M317 251.1H344M318.4 254.2H343.7M325.3 255.5H337.4M319.5 255.9H343.5M318.9 256.8H344.5M321.7 257.2H341.8M323.1 257.7H340.6M326.5 258.6H337.6M319 259.4H345.5M319.4 259.9H345.3M320.1 260.3H344.8M323.3 260.7H341.8M318.7 262H347.1M320.8 262.5H345.1M324.1 262.9H342.1M322.9 263.3H343.5M318.3 263.8H348.3M321.1 264.2H345.6M318.6 264.7H348.4M323.3 265.1H344M318.7 265.5H348.9M326.9 266.4H341.2M328.6 266.8H339.9M318.6 267.3H350.2M323.7 267.7H345.4M325.3 268.1H344.1M316.5 268.6H353.2M328 269H342M322.7 269.5H347.6M317.9 269.9H352.7M326.9 270.3H344.1M325.9 270.8H345.3M321.5 271.2H350.1M327.1 272.1H345.1M321.2 272.5H351.4M324.7 272.9H348.2M317.1 273.4H356.1M316.7 273.8H356.8M327.1 274.7H347.1M325.7 275.1H348.9M323.2 275.6H351.7M317.9 276H357.3M322.2 276.4H353.4M317.4 276.9H358.5M329.2 277.3H347.1M320.3 277.7H356.3M322.1 278.2H354.8M326.4 278.6H350.8M317.3 279H360.3M328.8 279.5H349.1M328.3 279.9H349.9M322.7 280.4H355.9M320.4 280.8H358.5M323.1 281.2H356.2M319.4 281.7H360.2M322.7 282.1H357.2M320.1 282.5H360.2M326.6 283H354M319.9 283.4H361M328.9 283.8H352.7M321.3 284.3H361.2M327.2 284.7H356.1M319.6 285.6H365.3M331.3 286H354.4M318.9 286.5H367.6M333.3 286.9H354M326.5 287.3H361.6M322.6 287.8H366.4M328.1 288.2H361.6M335.9 288.6H354.6M332.6 289.1H358.8M328.7 289.5H363.5M331.3 290H361.7M333.2 290.4H360.6M322.6 290.8H372.3M326.2 291.3H369.8M324.6 291.7H372.6M324.9 292.1H373.4M336.9 292.6H362.6M329.7 293H370.9M340.7 293.4H361.1M339.8 293.9H363.2M330.5 294.3H373.6M334 294.7H371.3M336.8 295.2H370.4M334.1 295.6H375.9M330.2 296.1H382.6M339.5 296.5H376M336.4 296.9H382.4M340 297.4H384M344.8 297.8H392.8" stroke="#ff6666" stroke-width="1.12" fill="none"/>
<path d="M273.9 34.4h0M276 34.8h0M278.5 35.3h0M281 35.7h0M284 36.1h0M286 36.6h0M288 37h0M290 37.5h0M289.2 37.9h0M291.2 38.8h0M292 39.2h0M293.5 40.1h0M294.3 40.5h0M295 40.9h0M295.8 41.4h0M297.9 43.6h0M298.3 44h0M299.1 44.9h0M299.5 45.3h0M299.9 45.7h0M300.3 46.2h0M300.5 46.6h0M300.8 47.5h0M301 47.9h0M301.7 49.7h0M302.6 51.8h0M303.5 54h0M303.6 54.5h0M303.8 54.9h0M304.1 55.8h0M304.4 56.6h0M304.8 57.9h0M305.1 58.8h0M305.9 61.9h0M306 62.3h0M306.7 65.4h0M307.1 67.1h0M307.2 68h0M307.6 70.6h0M307.9 72.3h0M308.1 73.6h0M308.2 74.1h0" stroke="#6699ff" stroke-width="7.8" stroke-linecap="round" fill="none"/>
<path d="M322.5 194h0M322.6 195.3h0M322.8 196.2h0M322.8 196.6h0M323 197.9h0M323 198.4h0M323.1 198.8h0M323.2 199.7h0M323.3 200.6h0M323.6 202.3h0M323.8 204h0M323.9 204.5h0M324.2 207.1h0M324.4 208.4h0M324.6 209.7h0M324.9 211.5h0M325.1 212.8h0M325.3 214.1h0M325.3 214.5h0M325.8 217.6h0M326.1 219.7h0M326.2 220.2h0M326.4 221.9h0M326.8 224.5h0M326.9 225h0M327.3 227.6h0M327.4 228.5h0M327.6 230.2h0M327.7 230.6h0M327.9 232.4h0M328.3 235h0M328.3 235.4h0M328.6 237.2h0M329 240.2h0M329 240.7h0M329.1 241.5h0M329.2 242h0M329.2 242.4h0M329.3 242.9h0M329.3 243.3h0M329.5 244.2h0M329.6 245h0M329.7 246.3h0M329.8 246.8h0M329.9 247.2h0M330 248.1h0M330.2 249.4h0M330.4 250.3h0M330.4 250.7h0M330.5 251.1h0M331.1 254.2h0M331.4 255.5h0M331.5 255.9h0M331.7 256.8h0M331.8 257.2h0M331.9 257.7h0M332.1 258.6h0M332.3 259.4h0M332.4 259.9h0M332.5 260.3h0M332.6 260.7h0M332.9 262h0M333 262.5h0M333.1 262.9h0M333.2 263.3h0M333.3 263.8h0M333.4 264.2h0M333.5 264.7h0M333.6 265.1h0M333.8 265.5h0M334.1 266.4h0M334.2 266.8h0M334.4 267.3h0M334.5 267.7h0M334.7 268.1h0M334.9 268.6h0M335 269h0M335.2 269.5h0M335.3 269.9h0M335.5 270.3h0M335.6 270.8h0M335.8 271.2h0M336.1 272.1h0M336.3 272.5h0M336.4 272.9h0M336.6 273.4h0M336.8 273.8h0M337.1 274.7h0M337.3 275.1h0M337.4 275.6h0M337.6 276h0M337.8 276.4h0M337.9 276.9h0M338.1 277.3h0M338.3 277.7h0M338.5 278.2h0M338.6 278.6h0M338.8 279h0M339 279.5h0M339.1 279.9h0M339.3 280.4h0M339.5 280.8h0M339.6 281.2h0M339.8 281.7h0M340 282.1h0M340.1 282.5h0M340.3 283h0M340.5 283.4h0M340.8 283.8h0M341.2 284.3h0M341.6 284.7h0M342.4 285.6h0M342.8 286h0M343.3 286.5h0M343.7 286.9h0M344.1 287.3h0M344.5 287.8h0M344.9 288.2h0M345.3 288.6h0M345.7 289.1h0M346.1 289.5h0M346.5 290h0M346.9 290.4h0M347.4 290.8h0M348 291.3h0M348.6 291.7h0M349.2 292.1h0M349.8 292.6h0M350.3 293h0M350.9 293.4h0M351.5 293.9h0M352.1 294.3h0M352.7 294.7h0M353.6 295.2h0M355 295.6h0M356.4 296.1h0M357.8 296.5h0M359.4 296.9h0M362 297.4h0M368.8 297.8h0" stroke="#ff6666" stroke-width="7.8" stroke-linecap="round" fill="none"/>
</g>
<g>
<path d="M500.8 40.9H549.4M502.8 42.2H551.1M505.8 42.6H549.2M508.2 43.9H550.3M507.6 44.4H552M510.4 44.8H549.9M510.8 45.7H550.4M508.4 46.1H553.1M509 46.5H553M511.5 47H550.9M511.9 47.4H550.9M514.1 48.3H549.5M512.8 48.7H551.3M510.5 49.6H554.5M509.4 50H556M510.1 50.4H555.7M516.2 50.9H549.8M515 52.1H551.8M512.3 53H554.9M510.4 53.9H557.3M511.4 54.3H556.5M516.4 54.7H551.8M514.1 55.2H554.3M515.5 55.6H553.1M513.8 56H555.1M518.2 56.9H551.2M517.1 57.8H552.7M518 58.6H552.2M521.4 59.1H549.1M512.4 59.5H558.3M512.1 59.9H558.8M512.6 60.4H558.5M513.6 61.2H558M517.2 61.7H554.5M512.5 62.1H559.6M519.8 63H552.6M517.4 63.4H555.3M518.4 63.8H554.5M513.7 64.3H559.5M517.8 64.7H555.5M518 65.1H555.5M522.8 66.4H551.2M516.4 66.9H557.8M513.6 67.3H560.8M514 68.6H560.9M515.7 69H559.4M514.9 69.5H560.4M517.2 69.9H558.3M519.9 70.8H555.9M517.6 72.1H558.7M515.3 72.5H561.1M526.8 72.9H549.7M522.1 73.4H554.6M523.8 73.8H553M524.3 74.2H552.7M519.6 74.7H557.6M523.8 75.1H553.5M520.4 76H557.2M518.9 76.4H558.8M516.6 76.8H561.2M516.9 77.7H561.2M518.7 78.6H559.5M529 79.4H549.5M521.4 80.7H557.3M518 81.2H560.8M517.4 81.6H561.5M516.9 83.3H562.5M516.3 83.8H563.2M525.2 84.6H554.5M520.7 85.5H559.2M521.2 86.3H559M531.4 86.8H548.9M530.6 87.2H549.9M520 87.6H560.6M523.1 88.1H557.8M518.5 88.5H562.5M520.8 88.9H560.4M528.2 89.4H553.1M520.7 89.8H560.8M526.7 90.2H555M518.8 90.7H563M523.5 91.1H558.5M522.5 91.5H559.6M522.2 92H560.1M519 92.4H563.4M521.9 92.8H560.7M526.6 93.3H556.2M531.1 93.7H551.9M527.3 94.1H555.9M530.9 94.6H552.4M520.2 95H563.3M523.7 95.4H559.9M523.3 95.9H560.4M522 96.3H561.8M532.6 96.7H551.3M523 97.2H561.1M521.4 97.6H562.8M521.6 98H562.7M532.9 98.5H551.6M525.6 98.9H558.9M521.7 99.3H563M520.1 99.8H564.7M522.3 100.2H562.6M523.2 100.6H561.9M525.4 101.1H559.8M532.9 101.5H552.4M523 101.9H562.5M535.8 102.4H549.8M528 102.8H557.7M532.3 103.2H553.5M533.5 103.7H552.5M520.4 104.1H565.7M522.4 104.5H563.8M532.3 105H554M524.7 105.4H561.7M530.7 105.8H555.9M528.5 106.3H558.2M529.1 106.7H557.7M523.6 107.1H563.3M520.4 107.6H566.7M529.8 108H557.4M528.2 108.4H559.1M533.3 108.9H554.1M534.2 109.3H553.3M532.8 109.7H554.8M534.3 110.2H553.4M530.8 110.6H557M523.4 111H564.5M529.4 111.5H558.6M526.5 111.9H561.6M533.9 112.3H554.3M534.2 112.8H554.1M529 113.2H559.4M532.4 113.6H556.1M521.3 114.1H567.3M530 114.5H558.7M521.4 114.9H567.4M524.5 115.4H564.4M521.3 115.8H567.7M522.4 116.2H566.7M521.9 116.7H567.3M522.3 117.1H567M529.2 117.5H560.2M529.7 117.9H559.8M522.6 118.4H567M523 118.8H566.7M536.9 119.2H552.9M537 119.7H552.9M521.7 120.1H568.2M521.9 120.5H568.2M521.8 121H568.4M531 121.4H559.3M525.9 121.8H564.4M527.8 122.3H562.7M531.5 122.7H559.1M527 123.1H563.7M524 123.6H566.8M531.9 124H558.9M538.5 124.4H552.4M528.3 124.9H562.6M524.9 125.3H566.1M523.1 125.7H568M525.3 126.2H565.8M526.8 126.6H564.4M524.7 127H566.5M522.2 127.5H569.1M527.1 127.9H564.3M528.5 128.3H562.9M525.9 128.8H565.6M534.5 129.2H557.1M537.2 129.6H554.5M524.2 130.1H567.5M526.5 130.5H565.3M530.8 130.9H561.1M531.9 131.4H560M522.6 131.8H569.3M528.3 132.2H563.8M526.4 132.7H565.7M523 133.1H569.2M537.9 133.5H554.3M524.6 134H567.7M526.1 134.4H566.3M527 134.8H565.5M524.3 135.3H568.3M523.7 135.7H569M527.2 136.1H565.5M537.1 136.6H555.7M523.2 137H569.7M532 137.4H561.1M532.8 137.9H560.4M529.7 138.3H563.6M533.7 138.7H559.6M525.2 139.2H568.2M523.2 139.6H570.3M527.9 140H565.7M537 140.5H556.7M524.6 140.9H569.2M538.1 141.3H555.8M535.3 141.8H558.7M526.9 142.2H567.2M539.1 142.6H555.1M525.1 143.1H569.1M535 143.5H559.4M525.4 143.9H569.1M523.9 144.4H570.7M536.5 144.8H558.1M538.7 145.2H556.1M539.1 145.7H555.8M525.9 146.1H569M528.3 146.5H566.8M539 147H556.2M532.7 147.4H562.5M540.7 147.8H554.6M530 148.3H565.4M537.4 148.7H558.1M527 149.1H568.6M537.3 149.6H558.4M538.4 150H557.4M534.1 150.4H561.8M524.6 150.8H571.4M538.4 151.3H557.7M540.2 151.7H556M536.9 152.1H559.4M527.5 152.6H568.9M539.4 153H557.1M534.6 153.4H561.9M530.4 153.9H566.3M527.5 154.3H569.2M540.7 154.7H556.2M541.3 155.2H555.6M539.9 155.6H557.2M536.9 156H560.2M535.3 156.5H561.9M525.9 156.9H571.4M526.7 157.3H570.7M530.8 157.8H566.7M528.8 158.2H568.8M539.1 158.6H558.6M539.5 159.1H558.3M541.4 159.5H556.5M530.4 159.9H567.6M536.5 160.4H561.6M525.7 160.8H572.5M535.9 161.2H562.4M525.8 161.7H572.7M533.3 162.1H565.3M531.6 162.5H567.1M534.4 163H564.4M540.8 163.4H558.1M542.2 163.8H556.9M526.4 164.3H572.7M531 164.7H568.2M526.4 165.1H573M530.1 165.6H569.4M540.7 166H558.9M527.5 166.4H572.2M528.1 166.9H571.7M541.8 167.3H558.1M537.6 167.7H562.4M532.1 168.2H568.1M536 168.6H564.3M537.7 169H562.7M533.3 169.5H567.2M540 169.9H560.6M529.6 170.3H571.1M540.3 170.8H560.6M529.6 171.2H571.4M533.4 171.6H567.7M528.8 172.1H572.4M527.3 172.5H574M531.1 172.9H570.3M532.5 173.4H569M537.7 173.8H563.9M530 174.2H571.8M537.4 174.7H564.5M539.4 175.1H562.6M544.2 175.5H557.9M533.7 176H568.5M532 176.4H570.3M529.2 176.8H573.2M530.1 177.3H572.4M530.5 177.7H572.2M539.4 178.1H563.4M542.7 178.6H560.2M533.6 179H569.4M536.2 179.4H566.9M542.2 179.9H561M538.1 180.3H565.3M529.6 180.7H573.9M536 181.2H567.6M538.8 181.6H564.9M542.5 182H561.3M535.2 182.5H568.7M544.7 182.9H559.4M539.4 183.3H564.8M544.2 183.7H560.2M532.5 184.2H572M542.1 184.6H562.4M532 185H572.7M533.2 185.5H571.7M540.3 185.9H564.7M532.5 186.3H572.6M538.3 186.8H566.9M532.1 187.2H573.2M530.4 187.6H575.1M530.3 188.1H575.3M539.5 188.5H566.3M536.4 188.9H569.5M537.7 189.4H568.3M535.4 189.8H570.7M533.2 190.2H573.1M538.4 190.7H568M532.9 191.1H573.6M535.1 191.5H571.5M542.5 192H564.3M534.9 192.4H572M530.4 192.8H576.7M543.2 193.3H564M537.6 193.7H569.7M531.8 194.1H575.7M531.9 194.6H575.7M531 195H576.7M541.3 195.4H566.5M532.2 195.9H575.7M535.3 196.3H572.8M531 196.7H577.2M531.3 197.2H577.1M537.6 197.6H570.9M531.8 198H576.8M534.3 198.5H574.4M540 198.9H568.9M545.2 199.3H563.8M531 199.8H578.1M538.9 200.2H570.3M534.3 200.6H575.1M542.6 201.1H566.9M534 201.5H575.6M531.9 201.9H577.9M542.4 202.4H567.5M546.7 202.8H563.3M535.4 203.2H574.8M531.7 203.7H578.6M533.4 204.1H577.1M536.4 204.5H574.2M544.2 205H566.6M532.1 205.4H579M537.4 206.3H574.1M534.1 206.7H577.6M535 207.1H576.8M535.3 207.6H576.8M534.6 208.4H577.8M535.8 208.9H576.7M545.2 209.3H567.5M543.3 209.7H569.6M533.2 210.2H579.8M533.8 210.6H579.4M543.5 211.9H570.2M533.8 212.3H580M539 213.6H575.4M541.9 214.5H572.8M534.2 214.9H580.7M540.1 215.4H575M543 215.8H572.2M535.2 216.2H580.2M535.9 217.5H580M537.2 218.4H579.1M546.4 219.2H570.3M547.1 219.7H569.9M536.2 220.5H581.2M536.2 221H581.5M537.7 221.8H580.4M536.6 222.3H581.8M546.5 222.7H572M545.4 224H573.9M546.8 224.4H572.7M541 224.9H578.6M541.5 225.3H578.4M539.3 226.2H581.1M546.4 227.5H574.6M540.1 228.8H581.6M545.2 229.2H576.8M542.2 230.1H580.3M542.1 230.9H581M543 231.8H580.7M546.6 232.7H577.6M546.1 233.5H578.7M542.1 234H583M546.5 234.4H578.8M541 234.8H584.7M545.2 235.3H580.7M545 236.1H581.5M545.5 236.6H581.3M544.9 237H582.1M543.2 237.4H584.1M545.9 237.9H581.7M542 239.2H586.5M542.2 239.6H586.5M546.8 240.5H582.4M542.9 242.6H587.6M545.6 243.5H585.4M542.5 244.4H589.1M543.2 246.5H589.7M546.3 250H588.6M544.7 251.7H591.4M546.5 252.1H590M546.1 253.4H591.3M545.1 254.7H593.4M545.3 255.2H593.5M545.4 255.6H593.7M545.6 256H593.9M546.8 257.3H593.6M546.5 257.8H594.3M546.1 259.1H595.7M545.5 259.9H596.9M546.6 260.8H596.5M545.9 261.2H597.6M546.8 261.7H597.1M547.1 266.4H601.6M547.1 268.2H603.3" stroke="#cccccc" stroke-width="1.12" fill="none"/>
<path d="M525.1 40.9h0M527 42.2h0M527.5 42.6h0M529.2 43.9h0M529.8 44.4h0M530.1 44.8h0M530.6 45.7h0M530.8 46.1h0M531 46.5h0M531.2 47h0M531.4 47.4h0M531.8 48.3h0M532.1 48.7h0M532.5 49.6h0M532.7 50h0M532.9 50.4h0M533 50.9h0M533.4 52.1h0M533.6 53h0M533.8 53.9h0M534 54.3h0M534.1 54.7h0M534.2 55.2h0M534.3 55.6h0M534.4 56h0M534.7 56.9h0M534.9 57.8h0M535.1 58.6h0M535.2 59.1h0M535.3 59.5h0M535.5 59.9h0M535.6 60.4h0M535.8 61.2h0M535.9 61.7h0M536 62.1h0M536.2 63h0M536.3 63.4h0M536.5 63.8h0M536.6 64.3h0M536.7 64.7h0M536.8 65.1h0M537 66.4h0M537.1 66.9h0M537.2 67.3h0M537.5 68.6h0M537.6 69h0M537.6 69.5h0M537.7 69.9h0M537.9 70.8h0M538.1 72.1h0M538.2 72.5h0M538.3 72.9h0M538.3 73.4h0M538.4 73.8h0M538.5 74.2h0M538.6 74.7h0M538.6 75.1h0M538.8 76h0M538.9 76.4h0M538.9 76.8h0M539.1 77.7h0M539.1 78.6h0M539.2 79.4h0M539.4 80.7h0M539.4 81.2h0M539.5 81.6h0M539.7 83.3h0M539.7 83.8h0M539.8 84.6h0M539.9 85.5h0M540.1 86.3h0M540.2 86.8h0M540.3 87.2h0M540.3 87.6h0M540.4 88.1h0M540.5 88.5h0M540.6 88.9h0M540.7 89.4h0M540.7 89.8h0M540.8 90.2h0M540.9 90.7h0M541 91.1h0M541.1 91.5h0M541.2 92h0M541.2 92.4h0M541.3 92.8h0M541.4 93.3h0M541.5 93.7h0M541.6 94.1h0M541.7 94.6h0M541.7 95h0M541.8 95.4h0M541.9 95.9h0M541.9 96.3h0M542 96.7h0M542 97.2h0M542.1 97.6h0M542.2 98h0M542.2 98.5h0M542.3 98.9h0M542.3 99.3h0M542.4 99.8h0M542.5 100.2h0M542.5 100.6h0M542.6 101.1h0M542.7 101.5h0M542.7 101.9h0M542.8 102.4h0M542.8 102.8h0M542.9 103.2h0M543 103.7h0M543 104.1h0M543.1 104.5h0M543.2 105h0M543.2 105.4h0M543.3 105.8h0M543.3 106.3h0M543.4 106.7h0M543.5 107.1h0M543.5 107.6h0M543.6 108h0M543.6 108.4h0M543.7 108.9h0M543.8 109.3h0M543.8 109.7h0M543.9 110.2h0M543.9 110.6h0M544 111h0M544 111.5h0M544.1 111.9h0M544.1 112.3h0M544.2 112.8h0M544.2 113.2h0M544.3 113.6h0M544.3 114.1h0M544.3 114.5h0M544.4 114.9h0M544.4 115.4h0M544.5 115.8h0M544.5 116.2h0M544.6 116.7h0M544.6 117.1h0M544.7 117.5h0M544.7 117.9h0M544.8 118.4h0M544.8 118.8h0M544.9 119.2h0M544.9 119.7h0M545 120.1h0M545 120.5h0M545.1 121h0M545.1 121.4h0M545.2 121.8h0M545.2 122.3h0M545.3 122.7h0M545.3 123.1h0M545.4 123.6h0M545.4 124h0M545.4 124.4h0M545.5 124.9h0M545.5 125.3h0M545.5 125.7h0M545.6 126.2h0M545.6 126.6h0M545.6 127h0M545.7 127.5h0M545.7 127.9h0M545.7 128.3h0M545.8 128.8h0M545.8 129.2h0M545.8 129.6h0M545.9 130.1h0M545.9 130.5h0M545.9 130.9h0M546 131.4h0M546 131.8h0M546 132.2h0M546.1 132.7h0M546.1 133.1h0M546.1 133.5h0M546.2 134h0M546.2 134.4h0M546.2 134.8h0M546.3 135.3h0M546.3 135.7h0M546.4 136.1h0M546.4 136.6h0M546.5 137h0M546.5 137.4h0M546.6 137.9h0M546.6 138.3h0M546.7 138.7h0M546.7 139.2h0M546.8 139.6h0M546.8 140h0M546.9 140.5h0M546.9 140.9h0M546.9 141.3h0M547 141.8h0M547 142.2h0M547.1 142.6h0M547.1 143.1h0M547.2 143.5h0M547.2 143.9h0M547.3 144.4h0M547.3 144.8h0M547.4 145.2h0M547.4 145.7h0M547.5 146.1h0M547.5 146.5h0M547.6 147h0M547.6 147.4h0M547.7 147.8h0M547.7 148.3h0M547.8 148.7h0M547.8 149.1h0M547.9 149.6h0M547.9 150h0M547.9 150.4h0M548 150.8h0M548 151.3h0M548.1 151.7h0M548.1 152.1h0M548.2 152.6h0M548.2 153h0M548.3 153.4h0M548.3 153.9h0M548.4 154.3h0M548.4 154.7h0M548.5 155.2h0M548.5 155.6h0M548.6 156h0M548.6 156.5h0M548.7 156.9h0M548.7 157.3h0M548.8 157.8h0M548.8 158.2h0M548.9 158.6h0M548.9 159.1h0M548.9 159.5h0M549 159.9h0M549 160.4h0M549.1 160.8h0M549.2 161.2h0M549.2 161.7h0M549.3 162.1h0M549.3 162.5h0M549.4 163h0M549.4 163.4h0M549.5 163.8h0M549.6 164.3h0M549.6 164.7h0M549.7 165.1h0M549.7 165.6h0M549.8 166h0M549.9 166.4h0M549.9 166.9h0M550 167.3h0M550 167.7h0M550.1 168.2h0M550.1 168.6h0M550.2 169h0M550.3 169.5h0M550.3 169.9h0M550.4 170.3h0M550.4 170.8h0M550.5 171.2h0M550.5 171.6h0M550.6 172.1h0M550.7 172.5h0M550.7 172.9h0M550.8 173.4h0M550.8 173.8h0M550.9 174.2h0M550.9 174.7h0M551 175.1h0M551.1 175.5h0M551.1 176h0M551.2 176.4h0M551.2 176.8h0M551.3 177.3h0M551.3 177.7h0M551.4 178.1h0M551.5 178.6h0M551.5 179h0M551.6 179.4h0M551.6 179.9h0M551.7 180.3h0M551.7 180.7h0M551.8 181.2h0M551.9 181.6h0M551.9 182h0M552 182.5h0M552 182.9h0M552.1 183.3h0M552.2 183.7h0M552.2 184.2h0M552.3 184.6h0M552.4 185h0M552.4 185.5h0M552.5 185.9h0M552.5 186.3h0M552.6 186.8h0M552.7 187.2h0M552.7 187.6h0M552.8 188.1h0M552.9 188.5h0M552.9 188.9h0M553 189.4h0M553.1 189.8h0M553.1 190.2h0M553.2 190.7h0M553.3 191.1h0M553.3 191.5h0M553.4 192h0M553.5 192.4h0M553.5 192.8h0M553.6 193.3h0M553.7 193.7h0M553.7 194.1h0M553.8 194.6h0M553.8 195h0M553.9 195.4h0M554 195.9h0M554 196.3h0M554.1 196.7h0M554.2 197.2h0M554.2 197.6h0M554.3 198h0M554.4 198.5h0M554.4 198.9h0M554.5 199.3h0M554.6 199.8h0M554.6 200.2h0M554.7 200.6h0M554.8 201.1h0M554.8 201.5h0M554.9 201.9h0M555 202.4h0M555 202.8h0M555.1 203.2h0M555.1 203.7h0M555.2 204.1h0M555.3 204.5h0M555.4 205h0M555.5 205.4h0M555.7 206.3h0M555.8 206.7h0M555.9 207.1h0M556 207.6h0M556.2 208.4h0M556.3 208.9h0M556.3 209.3h0M556.4 209.7h0M556.5 210.2h0M556.6 210.6h0M556.9 211.9h0M556.9 212.3h0M557.2 213.6h0M557.4 214.5h0M557.4 214.9h0M557.5 215.4h0M557.6 215.8h0M557.7 216.2h0M557.9 217.5h0M558.2 218.4h0M558.4 219.2h0M558.5 219.7h0M558.7 220.5h0M558.8 221h0M559 221.8h0M559.2 222.3h0M559.3 222.7h0M559.6 224h0M559.7 224.4h0M559.8 224.9h0M559.9 225.3h0M560.2 226.2h0M560.5 227.5h0M560.9 228.8h0M561 229.2h0M561.3 230.1h0M561.6 230.9h0M561.8 231.8h0M562.1 232.7h0M562.4 233.5h0M562.5 234h0M562.7 234.4h0M562.8 234.8h0M563 235.3h0M563.2 236.1h0M563.4 236.6h0M563.5 237h0M563.7 237.4h0M563.8 237.9h0M564.2 239.2h0M564.4 239.6h0M564.6 240.5h0M565.3 242.6h0M565.5 243.5h0M565.8 244.4h0M566.4 246.5h0M567.4 250h0M568.1 251.7h0M568.2 252.1h0M568.7 253.4h0M569.2 254.7h0M569.4 255.2h0M569.6 255.6h0M569.7 256h0M570.2 257.3h0M570.4 257.8h0M570.9 259.1h0M571.2 259.9h0M571.5 260.8h0M571.7 261.2h0M571.9 261.7h0M574.3 266.4h0M575.2 268.2h0" stroke="#cccccc" stroke-width="7.8" stroke-linecap="round" fill="none"/>
<path d="M548 25.8V311" stroke="#1a1a1a" stroke-width="1.3" stroke-dasharray="4.8 4.55" fill="none"/>
<path d="M469.4 34.4H525.4M471 34.8H529M471 35.3H537M473 35.7H543M478.4 36.1H544.4M485 36.6H545M491 37H545M494.9 37.4H535.9M507.9 37.9H526.2M505.6 38.3H531.7M510.4 38.7H529M510.4 39.2H531.2M514.9 39.6H528.8M499.2 40H546.7M502.7 40.5H545.4M516.4 41.3H535.2M519.5 41.8H533.3M516.3 43.1H539.9M518.7 43.5H538.7M524.5 45.2H536.2M527.5 47.8H535.7M528.1 49.1H536.5M520.3 51.3H546M524.1 51.7H542.4M519.8 52.6H547.1M530.1 53.4H537.3M526.2 56.5H542.9M528.7 57.3H540.8M530.9 58.2H539.2M531.5 60.8H539.8M532.7 62.5H539.6M533.4 65.6H540.3M529.1 66H544.7M528.8 67.7H545.7M527.6 68.2H547.1M531.3 70.3H544.3M529.5 71.2H546.4M534.6 71.6H541.5M535.3 75.5H542.2M530.4 77.3H546.4M531.1 78.1H547.1M535.5 79H542.9M533.8 79.9H547.8M535.9 80.3H542.8M530.5 82H547.5M534.2 82.5H544.9M536.2 82.9H543.1M534.5 84.2H547.5M536.4 85H543.3M532.3 85.9H547.3" stroke="#6699ff" stroke-width="1.12" fill="none"/>
<path d="M550.1 205.8H561.1M551.2 208H561M550.3 211H563.1M548.9 211.5H564.7M551.4 212.8H562.7M553.5 213.2H560.7M548.9 214.1H565.7M548.9 216.6H566.7M549.4 217.1H566.3M552.6 217.9H563.4M549.5 218.8H567.1M548.9 220.1H568.3M550.2 221.4H567.7M549.5 223.1H569.3M549 223.6H569.9M551.5 225.7H568.6M548.9 226.6H571.7M556 227H564.8M550 227.9H571.3M551 228.3H570.5M549.3 229.6H572.9M555.8 230.5H567M549.7 231.4H573.7M555.8 232.2H568.1M550 233.1H574.5M553.3 235.7H572.9M550 238.3H577.9M552 238.7H576.2M553.6 240H575.4M548.9 240.9H580.6M553.3 241.3H576.5M548.9 241.8H581.1M551.4 242.2H578.9M559.2 243.1H571.6M557.1 243.9H574.2M552.3 244.8H579.5M559.8 245.2H572.2M549.2 245.7H583.1M552.2 246.1H580.4M551 247H582.1M554.5 247.4H578.8M553.5 247.8H580.1M557.8 248.3H576M559.2 248.7H574.9M557.2 249.1H577.1M558.3 249.5H576.4M550.9 250.4H584.3M549.1 250.8H586.4M552.4 251.3H583.4M552.6 252.6H584.2M556.6 253H580.5M559.6 253.9H578.2M553.7 254.3H584.4M552.6 256.5H587.1M554.5 256.9H585.6M555.2 258.2H585.9M551.9 258.6H589.5M549.2 259.5H592.9M551.4 260.4H591.3M559.3 262.1H585M561.8 262.5H582.9M551.9 263H593.2M550.4 263.4H595.2M550.4 263.8H595.6M558.7 264.3H587.8M565.8 264.7H581.1M556.9 265.1H590.4M550.4 265.6H597.4M567.4 266H580.8M554.1 266.9H595M559.8 267.3H589.7M556.1 267.7H593.8M551.2 268.6H599.6M554.8 269H596.4M562.3 269.5H589.3M559.9 269.9H592.2M561.7 270.3H590.9M554.7 270.8H598.3M553.9 271.2H599.5M553.6 271.6H600.2M559.2 272.1H595.3M564.8 272.5H590.4M560.3 272.9H595.5M561.3 273.4H595.3M562.9 273.8H594.4M560.9 274.2H597.1M564.9 274.7H593.7M560.3 275.1H599.1M561.1 275.5H599M564.1 276H596.6M567.5 276.4H594M563.3 276.8H598.9M561.7 277.3H601.2M564.2 277.7H599.5M563 278.1H601.4M563.3 278.6H601.7M564.7 279H601M568.3 279.4H598.2M562.5 279.9H604.7M567.1 280.3H601.1M565.3 280.7H604.2M566.6 281.2H604.1M569.5 281.6H602.4M569.1 282H604M570.7 282.4H603.7M567.9 282.9H607.7M570 283.3H606.8M570.1 283.7H608M571.7 284.2H607.6M572.4 284.6H608.1M576.4 285H605.3M573.7 285.5H609.3M574.1 285.9H610M579 286.3H606.3M576 286.8H610.7M578.1 287.2H610M577.1 287.6H612.4M578.3 288.1H612.7M580.3 288.5H612.1M578.9 288.9H614.9M579.2 289.4H616.1M581.6 289.8H615.2M581 290.2H617.2M584.7 290.7H615M585.1 291.1H616M585.9 291.5H616.6M583 292H621M582 292.4H623.4M585.7 292.8H621.2M584.5 293.3H623.8M580.3 293.7H629.5M583.2 294.1H628M581.5 294.6H631.1M584.3 295H630.6M586.3 295.4H632M583.5 295.9H638.1M591.6 296.3H633.3M582 296.7H642M590.2 297.2H650.2M605 297.6H672" stroke="#ff6666" stroke-width="1.12" fill="none"/>
<path d="M497.4 34.4h0M500 34.8h0M504 35.3h0M508 35.7h0M511.4 36.1h0M515 36.6h0M518 37h0M515.4 37.4h0M517.1 37.9h0M518.6 38.3h0M519.7 38.7h0M520.8 39.2h0M521.9 39.6h0M523 40h0M524.1 40.5h0M525.8 41.3h0M526.4 41.8h0M528.1 43.1h0M528.7 43.5h0M530.4 45.2h0M531.6 47.8h0M532.3 49.1h0M533.1 51.3h0M533.3 51.7h0M533.5 52.6h0M533.7 53.4h0M534.5 56.5h0M534.8 57.3h0M535 58.2h0M535.7 60.8h0M536.1 62.5h0M536.8 65.6h0M536.9 66h0M537.3 67.7h0M537.4 68.2h0M537.8 70.3h0M538 71.2h0M538 71.6h0M538.7 75.5h0M538.4 77.3h0M539.1 78.1h0M539.2 79h0M540.8 79.9h0M539.3 80.3h0M539 82h0M539.6 82.5h0M539.6 82.9h0M541 84.2h0M539.9 85h0M539.8 85.9h0" stroke="#6699ff" stroke-width="7.8" stroke-linecap="round" fill="none"/>
<path d="M555.6 205.8h0M556.1 208h0M556.7 211h0M556.8 211.5h0M557 212.8h0M557.1 213.2h0M557.3 214.1h0M557.8 216.6h0M557.9 217.1h0M558 217.9h0M558.3 218.8h0M558.6 220.1h0M558.9 221.4h0M559.4 223.1h0M559.5 223.6h0M560.1 225.7h0M560.3 226.6h0M560.4 227h0M560.6 227.9h0M560.7 228.3h0M561.1 229.6h0M561.4 230.5h0M561.7 231.4h0M562 232.2h0M562.3 233.1h0M563.1 235.7h0M563.9 238.3h0M564.1 238.7h0M564.5 240h0M564.7 240.9h0M564.9 241.3h0M565 241.8h0M565.1 242.2h0M565.4 243.1h0M565.6 243.9h0M565.9 244.8h0M566 245.2h0M566.2 245.7h0M566.3 246.1h0M566.5 247h0M566.7 247.4h0M566.8 247.8h0M566.9 248.3h0M567.1 248.7h0M567.2 249.1h0M567.3 249.5h0M567.6 250.4h0M567.7 250.8h0M567.9 251.3h0M568.4 252.6h0M568.6 253h0M568.9 253.9h0M569.1 254.3h0M569.9 256.5h0M570 256.9h0M570.5 258.2h0M570.7 258.6h0M571 259.5h0M571.4 260.4h0M572.2 262.1h0M572.4 262.5h0M572.6 263h0M572.8 263.4h0M573 263.8h0M573.2 264.3h0M573.5 264.7h0M573.7 265.1h0M573.9 265.6h0M574.1 266h0M574.5 266.9h0M574.7 267.3h0M575 267.7h0M575.4 268.6h0M575.6 269h0M575.8 269.5h0M576 269.9h0M576.3 270.3h0M576.5 270.8h0M576.7 271.2h0M576.9 271.6h0M577.2 272.1h0M577.6 272.5h0M577.9 272.9h0M578.3 273.4h0M578.6 273.8h0M579 274.2h0M579.3 274.7h0M579.7 275.1h0M580 275.5h0M580.4 276h0M580.7 276.4h0M581.1 276.8h0M581.5 277.3h0M581.8 277.7h0M582.2 278.1h0M582.5 278.6h0M582.9 279h0M583.2 279.4h0M583.6 279.9h0M584.1 280.3h0M584.7 280.7h0M585.3 281.2h0M585.9 281.6h0M586.6 282h0M587.2 282.4h0M587.8 282.9h0M588.4 283.3h0M589 283.7h0M589.6 284.2h0M590.2 284.6h0M590.9 285h0M591.5 285.5h0M592.1 285.9h0M592.7 286.3h0M593.3 286.8h0M594.1 287.2h0M594.8 287.6h0M595.5 288.1h0M596.2 288.5h0M596.9 288.9h0M597.7 289.4h0M598.4 289.8h0M599.1 290.2h0M599.8 290.7h0M600.5 291.1h0M601.3 291.5h0M602 292h0M602.7 292.4h0M603.4 292.8h0M604.2 293.3h0M604.9 293.7h0M605.6 294.1h0M606.3 294.6h0M607.5 295h0M609.1 295.4h0M610.8 295.9h0M612.5 296.3h0M612 296.7h0M620.2 297.2h0M638.5 297.6h0" stroke="#ff6666" stroke-width="7.8" stroke-linecap="round" fill="none"/>
</g>
<g>
<path d="M55.4 380.9H93M66 384.7H86.5M50.2 388.5H103.5M62 392.3H100M70 396.1H94.6M59.6 399.9H105.6M74.8 403.7H91.1M78 407.5H89M74.3 411.3H93M77.1 415.1H92.3M76 418.9H94M76.6 422.8H93.5M74.9 426.6H96.1M78.6 430.4H97.3M65.1 434.2H111.9M65.4 438H112.2M62.1 441.8H115.8M80.3 445.6H97.3M84 449.4H95M78.9 457.1H102.2M84.8 460.9H99M60 464.7H125.7M69.8 468.5H116.2M79.3 472.3H107.8M74.9 476.1H112.6M84.4 479.9H104.9M83.2 491.3H109M64.5 499H130M79.7 518H121.3M84.4 525.6H122.2M86.7 552.3H131.1M85.5 579H148.9M84.5 582.8H150" stroke="#cccccc" stroke-width="1.12" fill="none"/>
<path d="M74.8 380.9h0M76 384.7h0M77 388.5h0M79.4 392.3h0M81.3 396.1h0M82.2 399.9h0M83 403.7h0M83.4 407.5h0M83.6 411.3h0M84 415.1h0M84.6 418.9h0M85.1 422.8h0M85.4 426.6h0M87.3 430.4h0M88.5 434.2h0M88.8 438h0M89.1 441.8h0M89.4 445.6h0M89.5 449.4h0M91 457.1h0M92 460.9h0M92.9 464.7h0M93.5 468.5h0M94 472.3h0M94.6 476.1h0M95.1 479.9h0M96 491.3h0M96.8 499h0M101 518h0M102.5 525.6h0M107.8 552.3h0M116.3 579h0M117 582.8h0" stroke="#cccccc" stroke-width="7.8" stroke-linecap="round" fill="none"/>
<path d="M85.4 352.9V638" stroke="#1a1a1a" stroke-width="1.3" stroke-dasharray="4.8 4.55" fill="none"/>
<path d="M5.1 361.8H58.4M65 365.6H69.5M61.2 369.4H79M61.2 373.2H79.4M61.2 377H84" stroke="#6699ff" stroke-width="1.12" fill="none"/>
<path d="M87 453.2H92M86.6 483.7H104.9M87 487.5H104.5M87.4 495.1H106.6M89.8 502.8H104.3M90.2 506.6H105.4M91 510.4H106.6M93.7 514.2H110M96 521.8H107.8M96 529.4H111.3M97.2 533.2H110M94.9 537.1H114.8M98.4 540.9H114.3M98.4 544.7H115.2M90.2 548.5H124.1M86.7 556.1H130M86.3 559.9H131.8M96 563.7H124M91.9 567.5H127.6M88.2 571.4H134.4M108 575.2H125M107.4 586.6H127.4M106 590.4H129.5M94.7 594.2H141.7M98.4 598H138.7M105 601.8H145.8M98.8 605.6H164.8M115.2 609.5H156M120.3 613.3H153M116.2 617.1H158.1M132.5 620.9H153M127 624.7H192.8" stroke="#ff6666" stroke-width="1.12" fill="none"/>
<path d="M29.9 361.8h0M67.3 365.6h0M69 369.4h0M70.8 373.2h0M72.9 377h0" stroke="#6699ff" stroke-width="7.8" stroke-linecap="round" fill="none"/>
<path d="M89.5 453.2h0M95.4 483.7h0M95.7 487.5h0M96.3 495.1h0M97.2 502.8h0M98 506.6h0M98.9 510.4h0M100 514.2h0M101.9 521.8h0M103 529.4h0M103.8 533.2h0M105 537.1h0M105.9 540.9h0M106.8 544.7h0M107.3 548.5h0M108.2 556.1h0M108.9 559.9h0M109.6 563.7h0M110.6 567.5h0M111.3 571.4h0M115.6 575.2h0M117.6 586.6h0M117.8 590.4h0M118 594.2h0M118.5 598h0M125.4 601.8h0M131.5 605.6h0M135.2 609.5h0M136.6 613.3h0M137.7 617.1h0M142.2 620.9h0M160.1 624.7h0" stroke="#ff6666" stroke-width="7.8" stroke-linecap="round" fill="none"/>
</g>
<g>
<path d="M269.7 365.8H320.3M271.2 367.7H321.4M272.9 369.6H322.2M273.7 371.4H323.8M289.1 382.8H325.4M283 384.7H337.6M291.2 386.6H331.6M291.7 388.5H333.4M293.9 390.3H333.4M283.3 392.2H345.8M303.6 394.1H327.5M304.7 396H328.2M284.4 397.9H350M301.6 399.8H334.1M304.7 401.7H332.2M302.7 403.6H335.4M306 405.5H333.1M311.9 407.4H328.2M295.5 409.2H345.4M312.9 411.1H329M296.1 413H346.7M291.3 414.9H352.2M312.2 416.8H332.1M308.6 418.7H336.5M300.9 420.6H345M301.6 422.5H345.1M306.9 424.4H340.5M300.7 426.3H347.5M306.6 428.1H342.3M307.7 430H342M292.5 431.9H357.9M315 433.8H336.2M316.4 435.7H335.6M308.4 437.6H344.3M313.8 439.5H339.7M311 441.4H343.4M294.7 443.3H360.5M304.8 447H352.2M313.7 448.9H344.1M302.5 450.8H356.1M311.3 452.7H348.2M312.8 454.6H347.5M312.5 456.5H348.6M308.6 458.4H353.3M313.1 460.3H349.7M309.4 462.2H354.2M314.9 465.9H350.2M316.5 467.8H349.2M306.8 469.7H359.4M316.5 471.6H350.4M311.1 473.5H356.3M309.8 475.4H358.2M306.9 477.3H361.8M314.3 481.1H355.3M313.2 486.7H357.6M307.4 496.2H366.6M314.4 505.6H362M307.2 511.3H372.5M309.1 515.1H371.6M312 517H369.1M313.3 518.9H368.3M308.7 520.8H373.2M315.1 522.6H367.3M316.1 530.2H368M312.2 537.8H373.8M315.8 541.5H371.1M316.3 547.2H371.7M313.2 551H375.4M312.7 552.9H376.4M315.4 554.8H374.3M314.1 556.7H376.1M315 558.6H375.7M315.5 568H378.1M316 573.7H379.6M314.7 579.3H382.5" stroke="#cccccc" stroke-width="1.12" fill="none"/>
<path d="M295 365.8h0M296.3 367.7h0M297.6 369.6h0M298.8 371.4h0M307.3 382.8h0M310.3 384.7h0M311.4 386.6h0M312.6 388.5h0M313.6 390.3h0M314.6 392.2h0M315.5 394.1h0M316.5 396h0M317.2 397.9h0M317.8 399.8h0M318.4 401.7h0M319.1 403.6h0M319.5 405.5h0M320 407.4h0M320.5 409.2h0M320.9 411.1h0M321.4 413h0M321.8 414.9h0M322.2 416.8h0M322.6 418.7h0M322.9 420.6h0M323.3 422.5h0M323.7 424.4h0M324.1 426.3h0M324.5 428.1h0M324.8 430h0M325.2 431.9h0M325.6 433.8h0M326 435.7h0M326.4 437.6h0M326.8 439.5h0M327.2 441.4h0M327.6 443.3h0M328.5 447h0M328.9 448.9h0M329.3 450.8h0M329.7 452.7h0M330.1 454.6h0M330.6 456.5h0M331 458.4h0M331.4 460.3h0M331.8 462.2h0M332.5 465.9h0M332.8 467.8h0M333.1 469.7h0M333.4 471.6h0M333.7 473.5h0M334 475.4h0M334.3 477.3h0M334.8 481.1h0M335.4 486.7h0M337 496.2h0M338.2 505.6h0M339.9 511.3h0M340.4 515.1h0M340.6 517h0M340.8 518.9h0M341 520.8h0M341.2 522.6h0M342.1 530.2h0M343 537.8h0M343.5 541.5h0M344 547.2h0M344.3 551h0M344.6 552.9h0M344.8 554.8h0M345.1 556.7h0M345.3 558.6h0M346.8 568h0M347.8 573.7h0M348.6 579.3h0" stroke="#cccccc" stroke-width="7.8" stroke-linecap="round" fill="none"/>
<path d="M317.7 352.9V638" stroke="#1a1a1a" stroke-width="1.3" stroke-dasharray="4.8 4.55" fill="none"/>
<path d="M263.2 362H287.2M243.1 363.9H308.1M282.8 373.3H316.8M294.4 375.2H306.4M287 377.1H315M286.4 379H316.4M288.4 380.9H317.4" stroke="#6699ff" stroke-width="1.12" fill="none"/>
<path d="M318.6 445.2H337.4M328.2 464.1H336.2M324.5 479.2H344.8M319.2 483H350.8M327.9 484.8H342.5M319.8 488.6H351.7M323.3 490.5H348.9M327.1 492.4H345.6M324.3 494.3H349.1M328.7 498.1H345.7M323.3 500H351.5M320.4 501.9H354.9M322.3 503.7H353.4M319.1 507.5H358.5M325.6 509.4H353.1M323.9 513.2H356.4M325 524.5H357.8M320.1 526.4H363.1M326.1 528.3H357.6M323.6 532.1H361M319.4 534H365.7M323.9 535.9H361.7M331.7 539.7H354.7M324.3 543.4H363M327 545.3H360.6M319.1 549.1H369.2M327.5 560.4H363.7M319.7 562.3H372.1M320.3 564.2H372.1M322.6 566.1H370.4M322 569.9H372.3M329.6 571.8H365.4M323 575.6H373.2M324.3 577.5H372.4M325.5 581.2H372.1M322.6 583.1H375.5M335.2 585H363.3M328.8 586.9H370.2M326.2 588.8H373.4M329.7 590.7H370.7M330.2 592.6H370.9M337.3 594.5H364.5M323.6 596.4H379.3M329.1 598.2H375M331.1 600.1H374.2M341.6 602H365M319.9 603.9H387.9M329.6 605.8H379.5M340.9 607.7H369.4M322 609.6H389.6M335.5 611.5H377.4M323 613.4H391.2M332.6 615.3H382.9M323.1 617.1H393.3M321.9 619H395.4M327.9 620.9H390.2M325.2 622.8H393.7M340.4 624.7H378.8" stroke="#ff6666" stroke-width="1.12" fill="none"/>
<path d="M275.2 362h0M275.6 363.9h0M299.8 373.3h0M300.4 375.2h0M301 377.1h0M301.4 379h0M302.9 380.9h0" stroke="#6699ff" stroke-width="7.8" stroke-linecap="round" fill="none"/>
<path d="M328 445.2h0M332.2 464.1h0M334.6 479.2h0M335 483h0M335.2 484.8h0M335.7 488.6h0M336.1 490.5h0M336.4 492.4h0M336.7 494.3h0M337.2 498.1h0M337.4 500h0M337.7 501.9h0M337.9 503.7h0M338.8 507.5h0M339.3 509.4h0M340.2 513.2h0M341.4 524.5h0M341.6 526.4h0M341.9 528.3h0M342.3 532.1h0M342.5 534h0M342.8 535.9h0M343.2 539.7h0M343.6 543.4h0M343.8 545.3h0M344.1 549.1h0M345.6 560.4h0M345.9 562.3h0M346.2 564.2h0M346.5 566.1h0M347.2 569.9h0M347.5 571.8h0M348.1 575.6h0M348.3 577.5h0M348.8 581.2h0M349 583.1h0M349.3 585h0M349.5 586.9h0M349.8 588.8h0M350.2 590.7h0M350.5 592.6h0M350.9 594.5h0M351.4 596.4h0M352.1 598.2h0M352.7 600.1h0M353.3 602h0M353.9 603.9h0M354.5 605.8h0M355.2 607.7h0M355.8 609.6h0M356.4 611.5h0M357.1 613.4h0M357.7 615.3h0M358.2 617.1h0M358.6 619h0M359.1 620.9h0M359.5 622.8h0M359.6 624.7h0" stroke="#ff6666" stroke-width="7.8" stroke-linecap="round" fill="none"/>
</g>
<g>
<path d="M496.9 368H552.7M498.6 369.2H553.5M502.4 374.3H561M503.8 375.5H560.9M501 376.8H564.9M507.6 378.1H559.5M506.8 379.3H561.6M509.8 380.6H559.5M504.5 381.8H565.6M504.8 383.1H566.1M519.2 384.3H552.5M509.3 385.6H563.1M511.5 388.1H562.3M508.8 389.4H565.6M513.1 390.6H561.9M509.4 391.9H566.3M512.1 393.1H564.1M508.5 394.4H568.3M508.3 398.2H570.6M507 399.4H572.7M507.4 400.7H573.1M509 403.2H572.7M510.1 404.5H572.1M515.3 405.7H567.4M528.6 407H554.5M509.5 408.2H574.1M512.5 409.5H571.5M517.5 410.8H567M514.8 412H570.3M515.2 413.3H570.6M516.9 414.5H569.6M518.7 415.8H568.4M519.2 417H568.6M519.2 418.3H569.3M519.4 419.6H569.6M516.3 420.8H573.3M520.5 422.1H569.7M513.2 423.3H577.6M517 424.6H574.4M514.3 425.9H577.7M521.5 427.1H570.8M514.6 428.4H578.2M516.7 429.6H576.4M515.5 430.9H578M520.6 432.1H573.4M520.7 433.4H574M517.2 434.7H578.2M516.2 435.9H579.9M523.1 437.2H573.7M520.5 438.4H577M520.6 439.7H577.6M524.6 440.9H574.2M519.9 442.2H579.4M524.7 443.5H575.2M519.8 444.7H580.6M520.3 446H580.6M518.2 447.2H583.3M521.1 448.5H580.8M519.6 449.8H582.8M520.8 451H582M519.9 452.3H583.3M528.6 453.5H574.9M526.7 454.8H577.3M529.6 456H574.8M528.6 457.3H576.2M521.8 458.6H583.4M525.2 459.8H580.4M534 461.1H572.1M529.1 462.3H577.4M542.2 463.6H564.7M533.2 464.8H574.2M530.6 466.1H577.2M530.9 467.4H577.5M528.9 468.6H579.9M529.2 469.9H580M523.6 471.1H586.1M533.2 472.4H577M545.8 473.7H564.8M528.4 474.9H582.7M524.1 476.2H587.4M523.5 477.4H588.5M529.8 478.7H582.7M541.7 479.9H571.3M524.3 481.2H589.1M541.1 482.5H572.7M525.1 483.7H589.2M527 485H587.7M541.9 486.2H573.3M529.1 487.5H586.6M543.5 488.7H572.7M537.5 490H579.3M528.7 491.3H588.6M535.9 492.5H581.9M531 493.8H587.3M528.6 495H590.2M533.3 496.3H586M543.1 497.6H576.8M535.3 498.8H585.1M540.8 505.1H581.6M528.6 506.4H594.1M540.3 507.6H582.6M547.7 508.9H575.5M533.1 510.1H590.3M540.8 511.4H583M540.9 512.6H583.2M540.8 517.7H584.7M530 518.9H596M535.6 520.2H590.9M530.5 521.5H596.5M535.8 522.7H591.7M532.5 526.5H596.5M544.2 527.7H585.3M537.3 529H592.6M532.8 530.3H597.7M542.6 531.5H588.3M542.2 532.8H589.3M542.7 534H589.2M537.7 539.1H595.9M536.5 540.3H597.5M544.3 541.6H590.1M543.6 542.8H591.2M547.5 545.4H588.1M537.9 546.6H598.3M548 547.9H588.7M538 550.4H599.7M539.7 552.9H599M544.8 554.2H594.5M547.8 563H595.3M540.5 564.2H603.2M545.3 565.5H599M546.1 570.5H600.9M546.4 571.8H601.4M543 575.5H607.1M548.8 580.6H604.3M544.6 581.8H609.3M546.7 598.2H618.2" stroke="#cccccc" stroke-width="1.12" fill="none"/>
<path d="M524.8 368h0M526 369.2h0M531.7 374.3h0M532.3 375.5h0M532.9 376.8h0M533.6 378.1h0M534.2 379.3h0M534.7 380.6h0M535.1 381.8h0M535.4 383.1h0M535.8 384.3h0M536.2 385.6h0M536.9 388.1h0M537.2 389.4h0M537.5 390.6h0M537.8 391.9h0M538.1 393.1h0M538.4 394.4h0M539.5 398.2h0M539.8 399.4h0M540.2 400.7h0M540.8 403.2h0M541.1 404.5h0M541.3 405.7h0M541.5 407h0M541.8 408.2h0M542 409.5h0M542.3 410.8h0M542.6 412h0M542.9 413.3h0M543.2 414.5h0M543.6 415.8h0M543.9 417h0M544.2 418.3h0M544.5 419.6h0M544.8 420.8h0M545.1 422.1h0M545.4 423.3h0M545.7 424.6h0M546 425.9h0M546.2 427.1h0M546.4 428.4h0M546.6 429.6h0M546.8 430.9h0M547 432.1h0M547.3 433.4h0M547.7 434.7h0M548.1 435.9h0M548.4 437.2h0M548.8 438.4h0M549.1 439.7h0M549.4 440.9h0M549.7 442.2h0M549.9 443.5h0M550.2 444.7h0M550.5 446h0M550.7 447.2h0M551 448.5h0M551.2 449.8h0M551.4 451h0M551.6 452.3h0M551.8 453.5h0M552 454.8h0M552.2 456h0M552.4 457.3h0M552.6 458.6h0M552.8 459.8h0M553 461.1h0M553.2 462.3h0M553.5 463.6h0M553.7 464.8h0M553.9 466.1h0M554.2 467.4h0M554.4 468.6h0M554.6 469.9h0M554.9 471.1h0M555.1 472.4h0M555.3 473.7h0M555.5 474.9h0M555.8 476.2h0M556 477.4h0M556.2 478.7h0M556.5 479.9h0M556.7 481.2h0M556.9 482.5h0M557.2 483.7h0M557.4 485h0M557.6 486.2h0M557.9 487.5h0M558.1 488.7h0M558.4 490h0M558.6 491.3h0M558.9 492.5h0M559.1 493.8h0M559.4 495h0M559.7 496.3h0M559.9 497.6h0M560.2 498.8h0M561.2 505.1h0M561.3 506.4h0M561.4 507.6h0M561.6 508.9h0M561.7 510.1h0M561.9 511.4h0M562 512.6h0M562.7 517.7h0M563 518.9h0M563.3 520.2h0M563.5 521.5h0M563.8 522.7h0M564.5 526.5h0M564.8 527.7h0M565 529h0M565.2 530.3h0M565.5 531.5h0M565.7 532.8h0M565.9 534h0M566.8 539.1h0M567 540.3h0M567.2 541.6h0M567.4 542.8h0M567.8 545.4h0M568.1 546.6h0M568.3 547.9h0M568.9 550.4h0M569.4 552.9h0M569.6 554.2h0M571.6 563h0M571.8 564.2h0M572.1 565.5h0M573.5 570.5h0M573.9 571.8h0M575 575.5h0M576.6 580.6h0M577 581.8h0M582.5 598.2h0" stroke="#cccccc" stroke-width="7.8" stroke-linecap="round" fill="none"/>
<path d="M550.4 352.9V638" stroke="#1a1a1a" stroke-width="1.3" stroke-dasharray="4.8 4.55" fill="none"/>
<path d="M469.5 361.7H535.5M477.8 363H548.8M490.6 364.2H548.6M497.5 365.5H547.5M510.6 366.7H535.9M521.3 370.5H533.3M508.9 371.8H549M518.7 373H542.7M533.6 386.9H539.6M534.4 395.7H543.1M530.1 396.9H548.1M532.6 402H548.6" stroke="#6699ff" stroke-width="1.12" fill="none"/>
<path d="M552.6 500.1H568.2M551.1 501.3H570.3M556.9 502.6H564.9M552.5 503.8H569.6M555.7 513.9H568.6M553.8 515.2H570.8M557.5 516.4H567.5M556.8 524H571.3M553.3 525.2H575.3M560.3 535.3H572.1M560.4 536.5H572.4M551.6 537.8H581.7M558.6 544.1H576.6M556.6 549.1H580.6M563.5 551.6H574.7M554.2 555.4H585.6M560 556.7H580.4M551.6 557.9H589.4M558.7 559.2H582.8M551.6 560.4H590.5M555.2 561.7H587.4M564.7 566.7H580.1M561.4 568H584.1M565.6 569.3H580.7M560.8 573H587.7M565 574.3H584.3M559.4 576.8H591.5M563 578.1H588.6M560.1 579.3H592.2M567.3 583.1H587.5M557.5 584.3H598M569.5 585.6H586.9M570 586.9H587.1M563.1 588.1H594.9M570.6 589.4H588.1M566.2 590.6H593.4M563 591.9H597.4M565 593.2H596.2M554.7 594.4H607.4M561.9 595.7H601.1M567.6 596.9H596.4M562.3 599.4H603.6M570.9 600.7H595.9M560 602H607.8M559.9 603.2H608.9M565.8 604.5H603.9M574.5 605.7H596.2M554.7 607H616.9M573.7 608.2H599M571.8 609.5H602.2M571.5 610.8H603.8M556.1 612H620.4M567.5 613.3H610.2M570.9 614.5H608M560.3 615.8H619.9M568.3 617.1H613.1M557.3 618.3H626M576.2 619.6H609.3M562.2 620.8H625.5M565.9 622.1H624M583 623.3H619M601.4 624.6H646.4" stroke="#ff6666" stroke-width="1.12" fill="none"/>
<path d="M502.5 361.7h0M513.3 363h0M519.6 364.2h0M522.5 365.5h0M523.3 366.7h0M527.3 370.5h0M528.9 371.8h0M530.7 373h0M536.6 386.9h0M538.7 395.7h0M539.1 396.9h0M540.6 402h0" stroke="#6699ff" stroke-width="7.8" stroke-linecap="round" fill="none"/>
<path d="M560.4 500.1h0M560.7 501.3h0M560.9 502.6h0M561 503.8h0M562.2 513.9h0M562.3 515.2h0M562.5 516.4h0M564 524h0M564.3 525.2h0M566.2 535.3h0M566.4 536.5h0M566.6 537.8h0M567.6 544.1h0M568.6 549.1h0M569.1 551.6h0M569.9 555.4h0M570.2 556.7h0M570.5 557.9h0M570.7 559.2h0M571 560.4h0M571.3 561.7h0M572.4 566.7h0M572.7 568h0M573.1 569.3h0M574.3 573h0M574.7 574.3h0M575.4 576.8h0M575.8 578.1h0M576.2 579.3h0M577.4 583.1h0M577.8 584.3h0M578.2 585.6h0M578.6 586.9h0M579 588.1h0M579.4 589.4h0M579.8 590.6h0M580.2 591.9h0M580.6 593.2h0M581 594.4h0M581.5 595.7h0M582 596.9h0M582.9 599.4h0M583.4 600.7h0M583.9 602h0M584.4 603.2h0M584.8 604.5h0M585.3 605.7h0M585.8 607h0M586.4 608.2h0M587 609.5h0M587.6 610.8h0M588.2 612h0M588.9 613.3h0M589.5 614.5h0M590.1 615.8h0M590.7 617.1h0M591.6 618.3h0M592.7 619.6h0M593.8 620.8h0M594.9 622.1h0M601 623.3h0M623.9 624.6h0" stroke="#ff6666" stroke-width="7.8" stroke-linecap="round" fill="none"/>
</g>
<path d="M39.9 310.8H212.3" stroke="#999" stroke-width="1" fill="none"/>
<path d="M39.9 310.8v2.8M83 310.8v2.8M126.1 310.8v2.8M169.2 310.8v2.8M212.3 310.8v2.8" stroke="#999" stroke-width="1" fill="none"/>
<text x="39.9" y="328.3" text-anchor="middle">−2.5</text>
<text x="83" y="328.3" text-anchor="middle">0</text>
<text x="126.1" y="328.3" text-anchor="middle">2.5</text>
<text x="169.2" y="328.3" text-anchor="middle">5.0</text>
<text x="212.3" y="328.3" text-anchor="middle">7.5</text>
<path d="M272.5 310.8H444.9" stroke="#999" stroke-width="1" fill="none"/>
<path d="M272.5 310.8v2.8M315.6 310.8v2.8M358.7 310.8v2.8M401.8 310.8v2.8M444.9 310.8v2.8" stroke="#999" stroke-width="1" fill="none"/>
<text x="272.5" y="328.3" text-anchor="middle">−2.5</text>
<text x="315.6" y="328.3" text-anchor="middle">0</text>
<text x="358.7" y="328.3" text-anchor="middle">2.5</text>
<text x="401.8" y="328.3" text-anchor="middle">5.0</text>
<text x="444.9" y="328.3" text-anchor="middle">7.5</text>
<path d="M504.9 310.8H677.3" stroke="#999" stroke-width="1" fill="none"/>
<path d="M504.9 310.8v2.8M548 310.8v2.8M591.1 310.8v2.8M634.2 310.8v2.8M677.3 310.8v2.8" stroke="#999" stroke-width="1" fill="none"/>
<text x="504.9" y="328.3" text-anchor="middle">−2.5</text>
<text x="548" y="328.3" text-anchor="middle">0</text>
<text x="591.1" y="328.3" text-anchor="middle">2.5</text>
<text x="634.2" y="328.3" text-anchor="middle">5.0</text>
<text x="677.3" y="328.3" text-anchor="middle">7.5</text>
<path d="M38.2 638.1H179.8" stroke="#999" stroke-width="1" fill="none"/>
<path d="M38.2 638.1v2.8M85.4 638.1v2.8M132.6 638.1v2.8M179.8 638.1v2.8" stroke="#999" stroke-width="1" fill="none"/>
<text x="38.2" y="654.8" text-anchor="middle">−2</text>
<text x="85.4" y="654.8" text-anchor="middle">0</text>
<text x="132.6" y="654.8" text-anchor="middle">2</text>
<text x="179.8" y="654.8" text-anchor="middle">4</text>
<path d="M270.5 638.1H412.1" stroke="#999" stroke-width="1" fill="none"/>
<path d="M270.5 638.1v2.8M317.7 638.1v2.8M364.9 638.1v2.8M412.1 638.1v2.8" stroke="#999" stroke-width="1" fill="none"/>
<text x="270.5" y="654.8" text-anchor="middle">−2</text>
<text x="317.7" y="654.8" text-anchor="middle">0</text>
<text x="364.9" y="654.8" text-anchor="middle">2</text>
<text x="412.1" y="654.8" text-anchor="middle">4</text>
<path d="M503.2 638.1H644.8" stroke="#999" stroke-width="1" fill="none"/>
<path d="M503.2 638.1v2.8M550.4 638.1v2.8M597.6 638.1v2.8M644.8 638.1v2.8" stroke="#999" stroke-width="1" fill="none"/>
<text x="503.2" y="654.8" text-anchor="middle">−2</text>
<text x="550.4" y="654.8" text-anchor="middle">0</text>
<text x="597.6" y="654.8" text-anchor="middle">2</text>
<text x="644.8" y="654.8" text-anchor="middle">4</text>
<path d="M84.5 301.2V308.6M88.6 301.2V308.6M84.5 304.9H88.6" stroke="#222" stroke-width="1" fill="none"/>
<path d="M317 301.2V308.6M322 301.2V308.6M317 304.9H322" stroke="#222" stroke-width="1" fill="none"/>
<path d="M551.4 301.2V308.6M558.4 301.2V308.6M551.4 304.9H558.4" stroke="#222" stroke-width="1" fill="none"/>
<path d="M90.3 627.8V635.2M101.8 627.8V635.2M90.3 631.5H101.8" stroke="#222" stroke-width="1" fill="none"/>
<path d="M324.7 627.8V635.2M334.2 627.8V635.2M324.7 631.5H334.2" stroke="#222" stroke-width="1" fill="none"/>
<path d="M557.7 627.8V635.2M567.2 627.8V635.2M557.7 631.5H567.2" stroke="#222" stroke-width="1" fill="none"/>
<text x="2.9" y="265.8">d.f. = 481</text>
<text x="3.9" y="285.7" letter-spacing="0"><tspan font-style="italic">Q</tspan> = 7,420</text>
<text x="3.9" y="305.2" letter-spacing="0"><tspan font-style="italic">P</tspan> &lt; 0.001</text>
<text x="238.6" y="265.8">d.f. = 604</text>
<text x="239.6" y="285.7" letter-spacing="0"><tspan font-style="italic">Q</tspan> = 1,721</text>
<text x="239.6" y="305.2" letter-spacing="0"><tspan font-style="italic">P</tspan> &lt; 0.001</text>
<text x="476.4" y="265.8">d.f. = 608</text>
<text x="477.4" y="285.7" letter-spacing="0"><tspan font-style="italic">Q</tspan> = 2,028</text>
<text x="477.4" y="305.2" letter-spacing="0"><tspan font-style="italic">P</tspan> &lt; 0.001</text>
<text x="-1" y="594.3">d.f. = 69</text>
<text x="0.4" y="614.1" letter-spacing="0"><tspan font-style="italic">Q</tspan> = 1,221</text>
<text x="0.4" y="633.5" letter-spacing="0"><tspan font-style="italic">P</tspan> &lt; 0.001</text>
<text x="239.3" y="594.3">d.f. = 139</text>
<text x="240.3" y="614.1" letter-spacing="0"><tspan font-style="italic">Q</tspan> = 514</text>
<text x="240.3" y="633.5" letter-spacing="0"><tspan font-style="italic">P</tspan> &lt; 0.001</text>
<text x="475.4" y="594.3">d.f. = 209</text>
<text x="476.4" y="614.1" letter-spacing="0"><tspan font-style="italic">Q</tspan> = 1,016</text>
<text x="476.4" y="633.5" letter-spacing="0"><tspan font-style="italic">P</tspan> &lt; 0.001</text>
</svg>
</body>
</html>
